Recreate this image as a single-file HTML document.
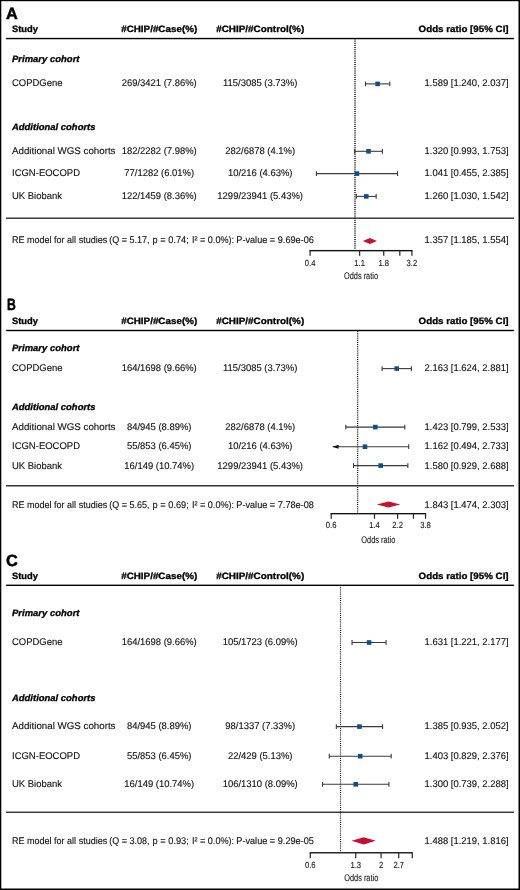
<!DOCTYPE html>
<html><head><meta charset="utf-8"><style>
html,body{margin:0;padding:0;background:#fff;width:520px;height:890px;overflow:hidden}
svg{display:block}
text{font-family:"Liberation Sans", sans-serif}
</style></head><body>
<svg width="520" height="890" viewBox="0 0 520 890" text-rendering="geometricPrecision" style="will-change:transform">
<rect width="520" height="890" fill="#fff"/>
<text x="6.00" y="19.00" style="font-size:16.3px;font-weight:bold" fill="#000" stroke="#000" stroke-width="0.5">A</text>
<text x="12.00" y="32.00" textLength="26.00" lengthAdjust="spacingAndGlyphs" style="font-size:9.2px;font-weight:bold" fill="#000" stroke="#000" stroke-width="0.3">Study</text>
<text x="159.20" y="32.00" text-anchor="middle" textLength="76.00" lengthAdjust="spacingAndGlyphs" style="font-size:9.2px;font-weight:bold" fill="#000" stroke="#000" stroke-width="0.3">#CHIP/#Case(%)</text>
<text x="260.20" y="32.00" text-anchor="middle" textLength="88.00" lengthAdjust="spacingAndGlyphs" style="font-size:9.2px;font-weight:bold" fill="#000" stroke="#000" stroke-width="0.3">#CHIP/#Control(%)</text>
<text x="508.60" y="32.00" text-anchor="end" textLength="90.00" lengthAdjust="spacingAndGlyphs" style="font-size:9.2px;font-weight:bold" fill="#000" stroke="#000" stroke-width="0.3">Odds ratio [95% CI]</text>
<rect x="6.00" y="37.85" width="508.00" height="1.40" fill="#000"/>
<text x="12.00" y="62.00" textLength="67.50" lengthAdjust="spacingAndGlyphs" style="font-size:9.2px;font-weight:bold;font-style:italic" fill="#000" stroke="#000" stroke-width="0.3">Primary cohort</text>
<text x="12.00" y="130.00" textLength="83.50" lengthAdjust="spacingAndGlyphs" style="font-size:9.2px;font-weight:bold;font-style:italic" fill="#000" stroke="#000" stroke-width="0.3">Additional cohorts</text>
<rect x="354.00" y="39" width="2.00" height="1" fill="#4a4a4a" fill-opacity="0.53"/>
<rect x="354.00" y="40" width="2.00" height="1" fill="#4a4a4a" fill-opacity="0.40"/>
<rect x="354.00" y="41" width="2.00" height="1" fill="#4a4a4a" fill-opacity="0.65"/>
<rect x="354.00" y="42" width="2.00" height="1" fill="#4a4a4a" fill-opacity="0.28"/>
<rect x="354.00" y="43" width="2.00" height="1" fill="#4a4a4a" fill-opacity="0.80"/>
<rect x="354.00" y="44" width="2.00" height="1" fill="#4a4a4a" fill-opacity="0.15"/>
<rect x="354.00" y="45" width="2.00" height="1" fill="#4a4a4a" fill-opacity="0.93"/>
<rect x="354.00" y="47" width="2.00" height="1" fill="#4a4a4a" fill-opacity="1.00"/>
<rect x="354.00" y="48" width="2.00" height="1" fill="#4a4a4a" fill-opacity="0.05"/>
<rect x="354.00" y="49" width="2.00" height="1" fill="#4a4a4a" fill-opacity="0.88"/>
<rect x="354.00" y="50" width="2.00" height="1" fill="#4a4a4a" fill-opacity="0.20"/>
<rect x="354.00" y="51" width="2.00" height="1" fill="#4a4a4a" fill-opacity="0.75"/>
<rect x="354.00" y="52" width="2.00" height="1" fill="#4a4a4a" fill-opacity="0.33"/>
<rect x="354.00" y="53" width="2.00" height="1" fill="#4a4a4a" fill-opacity="0.60"/>
<rect x="354.00" y="54" width="2.00" height="1" fill="#4a4a4a" fill-opacity="0.45"/>
<rect x="354.00" y="55" width="2.00" height="1" fill="#4a4a4a" fill-opacity="0.47"/>
<rect x="354.00" y="56" width="2.00" height="1" fill="#4a4a4a" fill-opacity="0.60"/>
<rect x="354.00" y="57" width="2.00" height="1" fill="#4a4a4a" fill-opacity="0.35"/>
<rect x="354.00" y="58" width="2.00" height="1" fill="#4a4a4a" fill-opacity="0.72"/>
<rect x="354.00" y="59" width="2.00" height="1" fill="#4a4a4a" fill-opacity="0.20"/>
<rect x="354.00" y="60" width="2.00" height="1" fill="#4a4a4a" fill-opacity="0.85"/>
<rect x="354.00" y="61" width="2.00" height="1" fill="#4a4a4a" fill-opacity="0.07"/>
<rect x="354.00" y="62" width="2.00" height="1" fill="#4a4a4a" fill-opacity="1.00"/>
<rect x="354.00" y="64" width="2.00" height="1" fill="#4a4a4a" fill-opacity="0.95"/>
<rect x="354.00" y="65" width="2.00" height="1" fill="#4a4a4a" fill-opacity="0.12"/>
<rect x="354.00" y="66" width="2.00" height="1" fill="#4a4a4a" fill-opacity="0.80"/>
<rect x="354.00" y="67" width="2.00" height="1" fill="#4a4a4a" fill-opacity="0.25"/>
<rect x="354.00" y="68" width="2.00" height="1" fill="#4a4a4a" fill-opacity="0.68"/>
<rect x="354.00" y="69" width="2.00" height="1" fill="#4a4a4a" fill-opacity="0.40"/>
<rect x="354.00" y="70" width="2.00" height="1" fill="#4a4a4a" fill-opacity="0.55"/>
<rect x="354.00" y="71" width="2.00" height="1" fill="#4a4a4a" fill-opacity="0.53"/>
<rect x="354.00" y="72" width="2.00" height="1" fill="#4a4a4a" fill-opacity="0.40"/>
<rect x="354.00" y="73" width="2.00" height="1" fill="#4a4a4a" fill-opacity="0.65"/>
<rect x="354.00" y="74" width="2.00" height="1" fill="#4a4a4a" fill-opacity="0.28"/>
<rect x="354.00" y="75" width="2.00" height="1" fill="#4a4a4a" fill-opacity="0.80"/>
<rect x="354.00" y="76" width="2.00" height="1" fill="#4a4a4a" fill-opacity="0.15"/>
<rect x="354.00" y="77" width="2.00" height="1" fill="#4a4a4a" fill-opacity="0.93"/>
<rect x="354.00" y="79" width="2.00" height="1" fill="#4a4a4a" fill-opacity="1.00"/>
<rect x="354.00" y="80" width="2.00" height="1" fill="#4a4a4a" fill-opacity="0.05"/>
<rect x="354.00" y="81" width="2.00" height="1" fill="#4a4a4a" fill-opacity="0.88"/>
<rect x="354.00" y="82" width="2.00" height="1" fill="#4a4a4a" fill-opacity="0.20"/>
<rect x="354.00" y="83" width="2.00" height="1" fill="#4a4a4a" fill-opacity="0.75"/>
<rect x="354.00" y="84" width="2.00" height="1" fill="#4a4a4a" fill-opacity="0.33"/>
<rect x="354.00" y="85" width="2.00" height="1" fill="#4a4a4a" fill-opacity="0.60"/>
<rect x="354.00" y="86" width="2.00" height="1" fill="#4a4a4a" fill-opacity="0.45"/>
<rect x="354.00" y="87" width="2.00" height="1" fill="#4a4a4a" fill-opacity="0.47"/>
<rect x="354.00" y="88" width="2.00" height="1" fill="#4a4a4a" fill-opacity="0.60"/>
<rect x="354.00" y="89" width="2.00" height="1" fill="#4a4a4a" fill-opacity="0.35"/>
<rect x="354.00" y="90" width="2.00" height="1" fill="#4a4a4a" fill-opacity="0.72"/>
<rect x="354.00" y="91" width="2.00" height="1" fill="#4a4a4a" fill-opacity="0.20"/>
<rect x="354.00" y="92" width="2.00" height="1" fill="#4a4a4a" fill-opacity="0.85"/>
<rect x="354.00" y="93" width="2.00" height="1" fill="#4a4a4a" fill-opacity="0.07"/>
<rect x="354.00" y="94" width="2.00" height="1" fill="#4a4a4a" fill-opacity="1.00"/>
<rect x="354.00" y="96" width="2.00" height="1" fill="#4a4a4a" fill-opacity="0.95"/>
<rect x="354.00" y="97" width="2.00" height="1" fill="#4a4a4a" fill-opacity="0.12"/>
<rect x="354.00" y="98" width="2.00" height="1" fill="#4a4a4a" fill-opacity="0.80"/>
<rect x="354.00" y="99" width="2.00" height="1" fill="#4a4a4a" fill-opacity="0.25"/>
<rect x="354.00" y="100" width="2.00" height="1" fill="#4a4a4a" fill-opacity="0.68"/>
<rect x="354.00" y="101" width="2.00" height="1" fill="#4a4a4a" fill-opacity="0.40"/>
<rect x="354.00" y="102" width="2.00" height="1" fill="#4a4a4a" fill-opacity="0.55"/>
<rect x="354.00" y="103" width="2.00" height="1" fill="#4a4a4a" fill-opacity="0.53"/>
<rect x="354.00" y="104" width="2.00" height="1" fill="#4a4a4a" fill-opacity="0.40"/>
<rect x="354.00" y="105" width="2.00" height="1" fill="#4a4a4a" fill-opacity="0.65"/>
<rect x="354.00" y="106" width="2.00" height="1" fill="#4a4a4a" fill-opacity="0.28"/>
<rect x="354.00" y="107" width="2.00" height="1" fill="#4a4a4a" fill-opacity="0.80"/>
<rect x="354.00" y="108" width="2.00" height="1" fill="#4a4a4a" fill-opacity="0.15"/>
<rect x="354.00" y="109" width="2.00" height="1" fill="#4a4a4a" fill-opacity="0.93"/>
<rect x="354.00" y="111" width="2.00" height="1" fill="#4a4a4a" fill-opacity="1.00"/>
<rect x="354.00" y="112" width="2.00" height="1" fill="#4a4a4a" fill-opacity="0.05"/>
<rect x="354.00" y="113" width="2.00" height="1" fill="#4a4a4a" fill-opacity="0.88"/>
<rect x="354.00" y="114" width="2.00" height="1" fill="#4a4a4a" fill-opacity="0.20"/>
<rect x="354.00" y="115" width="2.00" height="1" fill="#4a4a4a" fill-opacity="0.75"/>
<rect x="354.00" y="116" width="2.00" height="1" fill="#4a4a4a" fill-opacity="0.33"/>
<rect x="354.00" y="117" width="2.00" height="1" fill="#4a4a4a" fill-opacity="0.60"/>
<rect x="354.00" y="118" width="2.00" height="1" fill="#4a4a4a" fill-opacity="0.47"/>
<rect x="354.00" y="119" width="2.00" height="1" fill="#4a4a4a" fill-opacity="0.47"/>
<rect x="354.00" y="120" width="2.00" height="1" fill="#4a4a4a" fill-opacity="0.60"/>
<rect x="354.00" y="121" width="2.00" height="1" fill="#4a4a4a" fill-opacity="0.33"/>
<rect x="354.00" y="122" width="2.00" height="1" fill="#4a4a4a" fill-opacity="0.72"/>
<rect x="354.00" y="123" width="2.00" height="1" fill="#4a4a4a" fill-opacity="0.20"/>
<rect x="354.00" y="124" width="2.00" height="1" fill="#4a4a4a" fill-opacity="0.88"/>
<rect x="354.00" y="125" width="2.00" height="1" fill="#4a4a4a" fill-opacity="0.07"/>
<rect x="354.00" y="126" width="2.00" height="1" fill="#4a4a4a" fill-opacity="1.00"/>
<rect x="354.00" y="128" width="2.00" height="1" fill="#4a4a4a" fill-opacity="0.93"/>
<rect x="354.00" y="129" width="2.00" height="1" fill="#4a4a4a" fill-opacity="0.12"/>
<rect x="354.00" y="130" width="2.00" height="1" fill="#4a4a4a" fill-opacity="0.80"/>
<rect x="354.00" y="131" width="2.00" height="1" fill="#4a4a4a" fill-opacity="0.28"/>
<rect x="354.00" y="132" width="2.00" height="1" fill="#4a4a4a" fill-opacity="0.68"/>
<rect x="354.00" y="133" width="2.00" height="1" fill="#4a4a4a" fill-opacity="0.40"/>
<rect x="354.00" y="134" width="2.00" height="1" fill="#4a4a4a" fill-opacity="0.53"/>
<rect x="354.00" y="135" width="2.00" height="1" fill="#4a4a4a" fill-opacity="0.53"/>
<rect x="354.00" y="136" width="2.00" height="1" fill="#4a4a4a" fill-opacity="0.40"/>
<rect x="354.00" y="137" width="2.00" height="1" fill="#4a4a4a" fill-opacity="0.68"/>
<rect x="354.00" y="138" width="2.00" height="1" fill="#4a4a4a" fill-opacity="0.28"/>
<rect x="354.00" y="139" width="2.00" height="1" fill="#4a4a4a" fill-opacity="0.80"/>
<rect x="354.00" y="140" width="2.00" height="1" fill="#4a4a4a" fill-opacity="0.12"/>
<rect x="354.00" y="141" width="2.00" height="1" fill="#4a4a4a" fill-opacity="0.93"/>
<rect x="354.00" y="143" width="2.00" height="1" fill="#4a4a4a" fill-opacity="1.00"/>
<rect x="354.00" y="144" width="2.00" height="1" fill="#4a4a4a" fill-opacity="0.07"/>
<rect x="354.00" y="145" width="2.00" height="1" fill="#4a4a4a" fill-opacity="0.88"/>
<rect x="354.00" y="146" width="2.00" height="1" fill="#4a4a4a" fill-opacity="0.20"/>
<rect x="354.00" y="147" width="2.00" height="1" fill="#4a4a4a" fill-opacity="0.72"/>
<rect x="354.00" y="148" width="2.00" height="1" fill="#4a4a4a" fill-opacity="0.33"/>
<rect x="354.00" y="149" width="2.00" height="1" fill="#4a4a4a" fill-opacity="0.60"/>
<rect x="354.00" y="150" width="2.00" height="1" fill="#4a4a4a" fill-opacity="0.47"/>
<rect x="354.00" y="151" width="2.00" height="1" fill="#4a4a4a" fill-opacity="0.47"/>
<rect x="354.00" y="152" width="2.00" height="1" fill="#4a4a4a" fill-opacity="0.60"/>
<rect x="354.00" y="153" width="2.00" height="1" fill="#4a4a4a" fill-opacity="0.33"/>
<rect x="354.00" y="154" width="2.00" height="1" fill="#4a4a4a" fill-opacity="0.72"/>
<rect x="354.00" y="155" width="2.00" height="1" fill="#4a4a4a" fill-opacity="0.20"/>
<rect x="354.00" y="156" width="2.00" height="1" fill="#4a4a4a" fill-opacity="0.88"/>
<rect x="354.00" y="157" width="2.00" height="1" fill="#4a4a4a" fill-opacity="0.07"/>
<rect x="354.00" y="158" width="2.00" height="1" fill="#4a4a4a" fill-opacity="1.00"/>
<rect x="354.00" y="160" width="2.00" height="1" fill="#4a4a4a" fill-opacity="0.93"/>
<rect x="354.00" y="161" width="2.00" height="1" fill="#4a4a4a" fill-opacity="0.12"/>
<rect x="354.00" y="162" width="2.00" height="1" fill="#4a4a4a" fill-opacity="0.80"/>
<rect x="354.00" y="163" width="2.00" height="1" fill="#4a4a4a" fill-opacity="0.28"/>
<rect x="354.00" y="164" width="2.00" height="1" fill="#4a4a4a" fill-opacity="0.68"/>
<rect x="354.00" y="165" width="2.00" height="1" fill="#4a4a4a" fill-opacity="0.40"/>
<rect x="354.00" y="166" width="2.00" height="1" fill="#4a4a4a" fill-opacity="0.53"/>
<rect x="354.00" y="167" width="2.00" height="1" fill="#4a4a4a" fill-opacity="0.53"/>
<rect x="354.00" y="168" width="2.00" height="1" fill="#4a4a4a" fill-opacity="0.40"/>
<rect x="354.00" y="169" width="2.00" height="1" fill="#4a4a4a" fill-opacity="0.68"/>
<rect x="354.00" y="170" width="2.00" height="1" fill="#4a4a4a" fill-opacity="0.28"/>
<rect x="354.00" y="171" width="2.00" height="1" fill="#4a4a4a" fill-opacity="0.80"/>
<rect x="354.00" y="172" width="2.00" height="1" fill="#4a4a4a" fill-opacity="0.12"/>
<rect x="354.00" y="173" width="2.00" height="1" fill="#4a4a4a" fill-opacity="0.93"/>
<rect x="354.00" y="175" width="2.00" height="1" fill="#4a4a4a" fill-opacity="1.00"/>
<rect x="354.00" y="176" width="2.00" height="1" fill="#4a4a4a" fill-opacity="0.07"/>
<rect x="354.00" y="177" width="2.00" height="1" fill="#4a4a4a" fill-opacity="0.88"/>
<rect x="354.00" y="178" width="2.00" height="1" fill="#4a4a4a" fill-opacity="0.20"/>
<rect x="354.00" y="179" width="2.00" height="1" fill="#4a4a4a" fill-opacity="0.72"/>
<rect x="354.00" y="180" width="2.00" height="1" fill="#4a4a4a" fill-opacity="0.33"/>
<rect x="354.00" y="181" width="2.00" height="1" fill="#4a4a4a" fill-opacity="0.60"/>
<rect x="354.00" y="182" width="2.00" height="1" fill="#4a4a4a" fill-opacity="0.47"/>
<rect x="354.00" y="183" width="2.00" height="1" fill="#4a4a4a" fill-opacity="0.47"/>
<rect x="354.00" y="184" width="2.00" height="1" fill="#4a4a4a" fill-opacity="0.60"/>
<rect x="354.00" y="185" width="2.00" height="1" fill="#4a4a4a" fill-opacity="0.33"/>
<rect x="354.00" y="186" width="2.00" height="1" fill="#4a4a4a" fill-opacity="0.72"/>
<rect x="354.00" y="187" width="2.00" height="1" fill="#4a4a4a" fill-opacity="0.20"/>
<rect x="354.00" y="188" width="2.00" height="1" fill="#4a4a4a" fill-opacity="0.88"/>
<rect x="354.00" y="189" width="2.00" height="1" fill="#4a4a4a" fill-opacity="0.07"/>
<rect x="354.00" y="190" width="2.00" height="1" fill="#4a4a4a" fill-opacity="1.00"/>
<rect x="354.00" y="192" width="2.00" height="1" fill="#4a4a4a" fill-opacity="0.93"/>
<rect x="354.00" y="193" width="2.00" height="1" fill="#4a4a4a" fill-opacity="0.12"/>
<rect x="354.00" y="194" width="2.00" height="1" fill="#4a4a4a" fill-opacity="0.80"/>
<rect x="354.00" y="195" width="2.00" height="1" fill="#4a4a4a" fill-opacity="0.28"/>
<rect x="354.00" y="196" width="2.00" height="1" fill="#4a4a4a" fill-opacity="0.68"/>
<rect x="354.00" y="197" width="2.00" height="1" fill="#4a4a4a" fill-opacity="0.40"/>
<rect x="354.00" y="198" width="2.00" height="1" fill="#4a4a4a" fill-opacity="0.53"/>
<rect x="354.00" y="199" width="2.00" height="1" fill="#4a4a4a" fill-opacity="0.53"/>
<rect x="354.00" y="200" width="2.00" height="1" fill="#4a4a4a" fill-opacity="0.40"/>
<rect x="354.00" y="201" width="2.00" height="1" fill="#4a4a4a" fill-opacity="0.68"/>
<rect x="354.00" y="202" width="2.00" height="1" fill="#4a4a4a" fill-opacity="0.28"/>
<rect x="354.00" y="203" width="2.00" height="1" fill="#4a4a4a" fill-opacity="0.80"/>
<rect x="354.00" y="204" width="2.00" height="1" fill="#4a4a4a" fill-opacity="0.12"/>
<rect x="354.00" y="205" width="2.00" height="1" fill="#4a4a4a" fill-opacity="0.93"/>
<rect x="354.00" y="207" width="2.00" height="1" fill="#4a4a4a" fill-opacity="1.00"/>
<rect x="354.00" y="208" width="2.00" height="1" fill="#4a4a4a" fill-opacity="0.07"/>
<rect x="354.00" y="209" width="2.00" height="1" fill="#4a4a4a" fill-opacity="0.88"/>
<rect x="354.00" y="210" width="2.00" height="1" fill="#4a4a4a" fill-opacity="0.20"/>
<rect x="354.00" y="211" width="2.00" height="1" fill="#4a4a4a" fill-opacity="0.72"/>
<rect x="354.00" y="212" width="2.00" height="1" fill="#4a4a4a" fill-opacity="0.33"/>
<rect x="354.00" y="213" width="2.00" height="1" fill="#4a4a4a" fill-opacity="0.60"/>
<rect x="354.00" y="214" width="2.00" height="1" fill="#4a4a4a" fill-opacity="0.47"/>
<rect x="354.00" y="215" width="2.00" height="1" fill="#4a4a4a" fill-opacity="0.47"/>
<rect x="354.00" y="216" width="2.00" height="1" fill="#4a4a4a" fill-opacity="0.60"/>
<rect x="354.00" y="217" width="2.00" height="1" fill="#4a4a4a" fill-opacity="0.33"/>
<rect x="354.00" y="218" width="2.00" height="1" fill="#4a4a4a" fill-opacity="0.72"/>
<rect x="354.00" y="219" width="2.00" height="1" fill="#4a4a4a" fill-opacity="0.20"/>
<rect x="354.00" y="220" width="2.00" height="1" fill="#4a4a4a" fill-opacity="0.88"/>
<rect x="354.00" y="221" width="2.00" height="1" fill="#4a4a4a" fill-opacity="0.07"/>
<rect x="354.00" y="222" width="2.00" height="1" fill="#4a4a4a" fill-opacity="1.00"/>
<rect x="354.00" y="224" width="2.00" height="1" fill="#4a4a4a" fill-opacity="0.93"/>
<rect x="354.00" y="225" width="2.00" height="1" fill="#4a4a4a" fill-opacity="0.15"/>
<rect x="354.00" y="226" width="2.00" height="1" fill="#4a4a4a" fill-opacity="0.80"/>
<rect x="354.00" y="227" width="2.00" height="1" fill="#4a4a4a" fill-opacity="0.28"/>
<rect x="354.00" y="228" width="2.00" height="1" fill="#4a4a4a" fill-opacity="0.65"/>
<rect x="354.00" y="229" width="2.00" height="1" fill="#4a4a4a" fill-opacity="0.40"/>
<rect x="354.00" y="230" width="2.00" height="1" fill="#4a4a4a" fill-opacity="0.53"/>
<rect x="354.00" y="231" width="2.00" height="1" fill="#4a4a4a" fill-opacity="0.55"/>
<rect x="354.00" y="232" width="2.00" height="1" fill="#4a4a4a" fill-opacity="0.40"/>
<rect x="354.00" y="233" width="2.00" height="1" fill="#4a4a4a" fill-opacity="0.68"/>
<rect x="354.00" y="234" width="2.00" height="1" fill="#4a4a4a" fill-opacity="0.25"/>
<rect x="354.00" y="235" width="2.00" height="1" fill="#4a4a4a" fill-opacity="0.80"/>
<rect x="354.00" y="236" width="2.00" height="1" fill="#4a4a4a" fill-opacity="0.12"/>
<rect x="354.00" y="237" width="2.00" height="1" fill="#4a4a4a" fill-opacity="0.95"/>
<rect x="354.00" y="239" width="2.00" height="1" fill="#4a4a4a" fill-opacity="1.00"/>
<rect x="354.00" y="240" width="2.00" height="1" fill="#4a4a4a" fill-opacity="0.07"/>
<rect x="354.00" y="241" width="2.00" height="1" fill="#4a4a4a" fill-opacity="0.85"/>
<rect x="354.00" y="242" width="2.00" height="1" fill="#4a4a4a" fill-opacity="0.20"/>
<rect x="354.00" y="243" width="2.00" height="1" fill="#4a4a4a" fill-opacity="0.72"/>
<rect x="354.00" y="244" width="2.00" height="1" fill="#4a4a4a" fill-opacity="0.35"/>
<rect x="354.00" y="245" width="2.00" height="1" fill="#4a4a4a" fill-opacity="0.60"/>
<rect x="354.00" y="246" width="2.00" height="1" fill="#4a4a4a" fill-opacity="0.47"/>
<rect x="354.00" y="247" width="2.00" height="1" fill="#4a4a4a" fill-opacity="0.45"/>
<rect x="354.00" y="248" width="2.00" height="1" fill="#4a4a4a" fill-opacity="0.60"/>
<text x="12.00" y="86.00" textLength="50.50" lengthAdjust="spacingAndGlyphs" style="font-size:9.7px" fill="#111" stroke="#111" stroke-width="0.12">COPDGene</text>
<text x="159.20" y="86.00" text-anchor="middle" textLength="75.15" lengthAdjust="spacingAndGlyphs" style="font-size:9.7px" fill="#111" stroke="#111" stroke-width="0.12">269/3421 (7.86%)</text>
<text x="260.20" y="86.00" text-anchor="middle" textLength="74.45" lengthAdjust="spacingAndGlyphs" style="font-size:9.7px" fill="#111" stroke="#111" stroke-width="0.12">115/3085 (3.73%)</text>
<text x="508.60" y="86.00" text-anchor="end" textLength="84.09" lengthAdjust="spacingAndGlyphs" style="font-size:9.7px" fill="#111" stroke="#111" stroke-width="0.12">1.589 [1.240, 2.037]</text>
<line x1="365.49" y1="83.90" x2="389.79" y2="83.90" stroke="#3a3a3a" stroke-width="1.1"/>
<line x1="365.49" y1="81.50" x2="365.49" y2="86.30" stroke="#3a3a3a" stroke-width="1.1"/>
<line x1="389.79" y1="81.50" x2="389.79" y2="86.30" stroke="#3a3a3a" stroke-width="1.1"/>
<rect x="375.33" y="81.60" width="4.60" height="4.60" fill="#0d4f8b"/>
<text x="12.00" y="154.00" textLength="103.50" lengthAdjust="spacingAndGlyphs" style="font-size:9.7px" fill="#111" stroke="#111" stroke-width="0.12">Additional WGS cohorts</text>
<text x="159.20" y="154.00" text-anchor="middle" textLength="75.15" lengthAdjust="spacingAndGlyphs" style="font-size:9.7px" fill="#111" stroke="#111" stroke-width="0.12">182/2282 (7.98%)</text>
<text x="260.20" y="154.00" text-anchor="middle" textLength="69.89" lengthAdjust="spacingAndGlyphs" style="font-size:9.7px" fill="#111" stroke="#111" stroke-width="0.12">282/6878 (4.1%)</text>
<text x="508.60" y="154.00" text-anchor="end" textLength="84.09" lengthAdjust="spacingAndGlyphs" style="font-size:9.7px" fill="#111" stroke="#111" stroke-width="0.12">1.320 [0.993, 1.753]</text>
<line x1="354.62" y1="151.30" x2="382.44" y2="151.30" stroke="#3a3a3a" stroke-width="1.1"/>
<line x1="354.62" y1="148.90" x2="354.62" y2="153.70" stroke="#3a3a3a" stroke-width="1.1"/>
<line x1="382.44" y1="148.90" x2="382.44" y2="153.70" stroke="#3a3a3a" stroke-width="1.1"/>
<rect x="366.25" y="149.00" width="4.60" height="4.60" fill="#0d4f8b"/>
<text x="12.00" y="176.00" textLength="68.00" lengthAdjust="spacingAndGlyphs" style="font-size:9.7px" fill="#111" stroke="#111" stroke-width="0.12">ICGN-EOCOPD</text>
<text x="159.20" y="176.00" text-anchor="middle" textLength="69.89" lengthAdjust="spacingAndGlyphs" style="font-size:9.7px" fill="#111" stroke="#111" stroke-width="0.12">77/1282 (6.01%)</text>
<text x="260.20" y="176.00" text-anchor="middle" textLength="64.63" lengthAdjust="spacingAndGlyphs" style="font-size:9.7px" fill="#111" stroke="#111" stroke-width="0.12">10/216 (4.63%)</text>
<text x="508.60" y="176.00" text-anchor="end" textLength="84.09" lengthAdjust="spacingAndGlyphs" style="font-size:9.7px" fill="#111" stroke="#111" stroke-width="0.12">1.041 [0.455, 2.385]</text>
<line x1="316.41" y1="173.60" x2="397.52" y2="173.60" stroke="#3a3a3a" stroke-width="1.1"/>
<line x1="316.41" y1="171.20" x2="316.41" y2="176.00" stroke="#3a3a3a" stroke-width="1.1"/>
<line x1="397.52" y1="171.20" x2="397.52" y2="176.00" stroke="#3a3a3a" stroke-width="1.1"/>
<rect x="354.63" y="171.30" width="4.60" height="4.60" fill="#0d4f8b"/>
<text x="12.00" y="199.00" textLength="50.00" lengthAdjust="spacingAndGlyphs" style="font-size:9.7px" fill="#111" stroke="#111" stroke-width="0.12">UK Biobank</text>
<text x="159.20" y="199.00" text-anchor="middle" textLength="75.15" lengthAdjust="spacingAndGlyphs" style="font-size:9.7px" fill="#111" stroke="#111" stroke-width="0.12">122/1459 (8.36%)</text>
<text x="260.20" y="199.00" text-anchor="middle" textLength="85.66" lengthAdjust="spacingAndGlyphs" style="font-size:9.7px" fill="#111" stroke="#111" stroke-width="0.12">1299/23941 (5.43%)</text>
<text x="508.60" y="199.00" text-anchor="end" textLength="84.09" lengthAdjust="spacingAndGlyphs" style="font-size:9.7px" fill="#111" stroke="#111" stroke-width="0.12">1.260 [1.030, 1.542]</text>
<line x1="356.41" y1="196.40" x2="376.16" y2="196.40" stroke="#3a3a3a" stroke-width="1.1"/>
<line x1="356.41" y1="194.00" x2="356.41" y2="198.80" stroke="#3a3a3a" stroke-width="1.1"/>
<line x1="376.16" y1="194.00" x2="376.16" y2="198.80" stroke="#3a3a3a" stroke-width="1.1"/>
<rect x="363.98" y="194.10" width="4.60" height="4.60" fill="#0d4f8b"/>
<rect x="6.00" y="217.55" width="508.00" height="1.25" fill="#151515"/>
<text x="12.00" y="243.00" textLength="95.20" lengthAdjust="spacingAndGlyphs" style="font-size:9.7px" fill="#111" stroke="#111" stroke-width="0.12">RE model for all studies</text>
<text x="109.30" y="243.00" textLength="40.30" lengthAdjust="spacingAndGlyphs" style="font-size:9.7px" fill="#111" stroke="#111" stroke-width="0.12">(Q = 5.17,</text>
<text x="152.60" y="243.00" textLength="36.20" lengthAdjust="spacingAndGlyphs" style="font-size:9.7px" fill="#111" stroke="#111" stroke-width="0.12">p = 0.74;</text>
<text x="191.90" y="243.00" textLength="42.20" lengthAdjust="spacingAndGlyphs" style="font-size:9.7px" fill="#111" stroke="#111" stroke-width="0.12">I² = 0.0%):</text>
<text x="236.30" y="243.00" textLength="77.60" lengthAdjust="spacingAndGlyphs" style="font-size:9.7px" fill="#111" stroke="#111" stroke-width="0.12">P-value = 9.69e-06</text>
<text x="508.60" y="243.00" text-anchor="end" textLength="84.09" lengthAdjust="spacingAndGlyphs" style="font-size:9.7px" fill="#111" stroke="#111" stroke-width="0.12">1.357 [1.185, 1.554]</text>
<path d="M362.87,241.00 L369.91,238.10 L376.94,241.00 L369.91,243.90 Z" fill="#c8102e"/>
<rect x="309.50" y="249.95" width="103.01" height="1.40" fill="#111"/>
<line x1="310.10" y1="250.50" x2="310.10" y2="255.70" stroke="#222" stroke-width="1.2"/>
<text x="310.10" y="265.50" text-anchor="middle" textLength="10.64" lengthAdjust="spacingAndGlyphs" style="font-size:8.8px" fill="#222" stroke="#111" stroke-width="0.12">0.4</text>
<line x1="359.63" y1="250.50" x2="359.63" y2="255.70" stroke="#222" stroke-width="1.2"/>
<text x="359.63" y="265.50" text-anchor="middle" textLength="10.64" lengthAdjust="spacingAndGlyphs" style="font-size:8.8px" fill="#222" stroke="#111" stroke-width="0.12">1.1</text>
<line x1="383.74" y1="250.50" x2="383.74" y2="255.70" stroke="#222" stroke-width="1.2"/>
<text x="383.74" y="265.50" text-anchor="middle" textLength="10.64" lengthAdjust="spacingAndGlyphs" style="font-size:8.8px" fill="#222" stroke="#111" stroke-width="0.12">1.8</text>
<line x1="399.82" y1="250.50" x2="399.82" y2="255.70" stroke="#222" stroke-width="1.2"/>
<line x1="411.91" y1="250.50" x2="411.91" y2="255.70" stroke="#222" stroke-width="1.2"/>
<text x="411.91" y="265.50" text-anchor="middle" textLength="10.64" lengthAdjust="spacingAndGlyphs" style="font-size:8.8px" fill="#222" stroke="#111" stroke-width="0.12">3.2</text>
<text x="361.00" y="279.30" text-anchor="middle" textLength="34.00" lengthAdjust="spacingAndGlyphs" style="font-size:9.6px" fill="#222" stroke="#111" stroke-width="0.12">Odds ratio</text>
<text x="7.00" y="310.00" textLength="8.80" lengthAdjust="spacingAndGlyphs" style="font-size:16.3px;font-weight:bold" fill="#000" stroke="#000" stroke-width="0.5">B</text>
<text x="12.00" y="324.00" textLength="26.00" lengthAdjust="spacingAndGlyphs" style="font-size:9.2px;font-weight:bold" fill="#000" stroke="#000" stroke-width="0.3">Study</text>
<text x="159.20" y="324.00" text-anchor="middle" textLength="76.00" lengthAdjust="spacingAndGlyphs" style="font-size:9.2px;font-weight:bold" fill="#000" stroke="#000" stroke-width="0.3">#CHIP/#Case(%)</text>
<text x="260.20" y="324.00" text-anchor="middle" textLength="88.00" lengthAdjust="spacingAndGlyphs" style="font-size:9.2px;font-weight:bold" fill="#000" stroke="#000" stroke-width="0.3">#CHIP/#Control(%)</text>
<text x="508.60" y="324.00" text-anchor="end" textLength="90.00" lengthAdjust="spacingAndGlyphs" style="font-size:9.2px;font-weight:bold" fill="#000" stroke="#000" stroke-width="0.3">Odds ratio [95% CI]</text>
<rect x="6.00" y="329.80" width="508.00" height="1.40" fill="#000"/>
<text x="12.00" y="351.00" textLength="67.50" lengthAdjust="spacingAndGlyphs" style="font-size:9.2px;font-weight:bold;font-style:italic" fill="#000" stroke="#000" stroke-width="0.3">Primary cohort</text>
<text x="12.00" y="410.00" textLength="83.50" lengthAdjust="spacingAndGlyphs" style="font-size:9.2px;font-weight:bold;font-style:italic" fill="#000" stroke="#000" stroke-width="0.3">Additional cohorts</text>
<rect x="357.00" y="331" width="1.30" height="1" fill="#1a1a1a" fill-opacity="0.75"/>
<rect x="357.00" y="332" width="1.30" height="1" fill="#1a1a1a" fill-opacity="0.33"/>
<rect x="357.00" y="333" width="1.30" height="1" fill="#1a1a1a" fill-opacity="0.62"/>
<rect x="357.00" y="334" width="1.30" height="1" fill="#1a1a1a" fill-opacity="0.45"/>
<rect x="357.00" y="335" width="1.30" height="1" fill="#1a1a1a" fill-opacity="0.47"/>
<rect x="357.00" y="336" width="1.30" height="1" fill="#1a1a1a" fill-opacity="0.57"/>
<rect x="357.00" y="337" width="1.30" height="1" fill="#1a1a1a" fill-opacity="0.35"/>
<rect x="357.00" y="338" width="1.30" height="1" fill="#1a1a1a" fill-opacity="0.72"/>
<rect x="357.00" y="339" width="1.30" height="1" fill="#1a1a1a" fill-opacity="0.23"/>
<rect x="357.00" y="340" width="1.30" height="1" fill="#1a1a1a" fill-opacity="0.85"/>
<rect x="357.00" y="341" width="1.30" height="1" fill="#1a1a1a" fill-opacity="0.07"/>
<rect x="357.00" y="342" width="1.30" height="1" fill="#1a1a1a" fill-opacity="0.97"/>
<rect x="357.00" y="344" width="1.30" height="1" fill="#1a1a1a" fill-opacity="0.95"/>
<rect x="357.00" y="345" width="1.30" height="1" fill="#1a1a1a" fill-opacity="0.12"/>
<rect x="357.00" y="346" width="1.30" height="1" fill="#1a1a1a" fill-opacity="0.82"/>
<rect x="357.00" y="347" width="1.30" height="1" fill="#1a1a1a" fill-opacity="0.25"/>
<rect x="357.00" y="348" width="1.30" height="1" fill="#1a1a1a" fill-opacity="0.68"/>
<rect x="357.00" y="349" width="1.30" height="1" fill="#1a1a1a" fill-opacity="0.38"/>
<rect x="357.00" y="350" width="1.30" height="1" fill="#1a1a1a" fill-opacity="0.55"/>
<rect x="357.00" y="351" width="1.30" height="1" fill="#1a1a1a" fill-opacity="0.53"/>
<rect x="357.00" y="352" width="1.30" height="1" fill="#1a1a1a" fill-opacity="0.40"/>
<rect x="357.00" y="353" width="1.30" height="1" fill="#1a1a1a" fill-opacity="0.65"/>
<rect x="357.00" y="354" width="1.30" height="1" fill="#1a1a1a" fill-opacity="0.28"/>
<rect x="357.00" y="355" width="1.30" height="1" fill="#1a1a1a" fill-opacity="0.80"/>
<rect x="357.00" y="356" width="1.30" height="1" fill="#1a1a1a" fill-opacity="0.15"/>
<rect x="357.00" y="357" width="1.30" height="1" fill="#1a1a1a" fill-opacity="0.93"/>
<rect x="357.00" y="359" width="1.30" height="1" fill="#1a1a1a" fill-opacity="1.00"/>
<rect x="357.00" y="360" width="1.30" height="1" fill="#1a1a1a" fill-opacity="0.05"/>
<rect x="357.00" y="361" width="1.30" height="1" fill="#1a1a1a" fill-opacity="0.88"/>
<rect x="357.00" y="362" width="1.30" height="1" fill="#1a1a1a" fill-opacity="0.20"/>
<rect x="357.00" y="363" width="1.30" height="1" fill="#1a1a1a" fill-opacity="0.75"/>
<rect x="357.00" y="364" width="1.30" height="1" fill="#1a1a1a" fill-opacity="0.33"/>
<rect x="357.00" y="365" width="1.30" height="1" fill="#1a1a1a" fill-opacity="0.60"/>
<rect x="357.00" y="366" width="1.30" height="1" fill="#1a1a1a" fill-opacity="0.45"/>
<rect x="357.00" y="367" width="1.30" height="1" fill="#1a1a1a" fill-opacity="0.47"/>
<rect x="357.00" y="368" width="1.30" height="1" fill="#1a1a1a" fill-opacity="0.60"/>
<rect x="357.00" y="369" width="1.30" height="1" fill="#1a1a1a" fill-opacity="0.35"/>
<rect x="357.00" y="370" width="1.30" height="1" fill="#1a1a1a" fill-opacity="0.72"/>
<rect x="357.00" y="371" width="1.30" height="1" fill="#1a1a1a" fill-opacity="0.20"/>
<rect x="357.00" y="372" width="1.30" height="1" fill="#1a1a1a" fill-opacity="0.85"/>
<rect x="357.00" y="373" width="1.30" height="1" fill="#1a1a1a" fill-opacity="0.07"/>
<rect x="357.00" y="374" width="1.30" height="1" fill="#1a1a1a" fill-opacity="1.00"/>
<rect x="357.00" y="376" width="1.30" height="1" fill="#1a1a1a" fill-opacity="0.95"/>
<rect x="357.00" y="377" width="1.30" height="1" fill="#1a1a1a" fill-opacity="0.12"/>
<rect x="357.00" y="378" width="1.30" height="1" fill="#1a1a1a" fill-opacity="0.80"/>
<rect x="357.00" y="379" width="1.30" height="1" fill="#1a1a1a" fill-opacity="0.25"/>
<rect x="357.00" y="380" width="1.30" height="1" fill="#1a1a1a" fill-opacity="0.68"/>
<rect x="357.00" y="381" width="1.30" height="1" fill="#1a1a1a" fill-opacity="0.40"/>
<rect x="357.00" y="382" width="1.30" height="1" fill="#1a1a1a" fill-opacity="0.55"/>
<rect x="357.00" y="383" width="1.30" height="1" fill="#1a1a1a" fill-opacity="0.53"/>
<rect x="357.00" y="384" width="1.30" height="1" fill="#1a1a1a" fill-opacity="0.40"/>
<rect x="357.00" y="385" width="1.30" height="1" fill="#1a1a1a" fill-opacity="0.65"/>
<rect x="357.00" y="386" width="1.30" height="1" fill="#1a1a1a" fill-opacity="0.28"/>
<rect x="357.00" y="387" width="1.30" height="1" fill="#1a1a1a" fill-opacity="0.80"/>
<rect x="357.00" y="388" width="1.30" height="1" fill="#1a1a1a" fill-opacity="0.15"/>
<rect x="357.00" y="389" width="1.30" height="1" fill="#1a1a1a" fill-opacity="0.93"/>
<rect x="357.00" y="391" width="1.30" height="1" fill="#1a1a1a" fill-opacity="1.00"/>
<rect x="357.00" y="392" width="1.30" height="1" fill="#1a1a1a" fill-opacity="0.05"/>
<rect x="357.00" y="393" width="1.30" height="1" fill="#1a1a1a" fill-opacity="0.88"/>
<rect x="357.00" y="394" width="1.30" height="1" fill="#1a1a1a" fill-opacity="0.20"/>
<rect x="357.00" y="395" width="1.30" height="1" fill="#1a1a1a" fill-opacity="0.75"/>
<rect x="357.00" y="396" width="1.30" height="1" fill="#1a1a1a" fill-opacity="0.33"/>
<rect x="357.00" y="397" width="1.30" height="1" fill="#1a1a1a" fill-opacity="0.60"/>
<rect x="357.00" y="398" width="1.30" height="1" fill="#1a1a1a" fill-opacity="0.45"/>
<rect x="357.00" y="399" width="1.30" height="1" fill="#1a1a1a" fill-opacity="0.47"/>
<rect x="357.00" y="400" width="1.30" height="1" fill="#1a1a1a" fill-opacity="0.60"/>
<rect x="357.00" y="401" width="1.30" height="1" fill="#1a1a1a" fill-opacity="0.35"/>
<rect x="357.00" y="402" width="1.30" height="1" fill="#1a1a1a" fill-opacity="0.72"/>
<rect x="357.00" y="403" width="1.30" height="1" fill="#1a1a1a" fill-opacity="0.20"/>
<rect x="357.00" y="404" width="1.30" height="1" fill="#1a1a1a" fill-opacity="0.85"/>
<rect x="357.00" y="405" width="1.30" height="1" fill="#1a1a1a" fill-opacity="0.07"/>
<rect x="357.00" y="406" width="1.30" height="1" fill="#1a1a1a" fill-opacity="1.00"/>
<rect x="357.00" y="408" width="1.30" height="1" fill="#1a1a1a" fill-opacity="0.95"/>
<rect x="357.00" y="409" width="1.30" height="1" fill="#1a1a1a" fill-opacity="0.12"/>
<rect x="357.00" y="410" width="1.30" height="1" fill="#1a1a1a" fill-opacity="0.80"/>
<rect x="357.00" y="411" width="1.30" height="1" fill="#1a1a1a" fill-opacity="0.25"/>
<rect x="357.00" y="412" width="1.30" height="1" fill="#1a1a1a" fill-opacity="0.68"/>
<rect x="357.00" y="413" width="1.30" height="1" fill="#1a1a1a" fill-opacity="0.40"/>
<rect x="357.00" y="414" width="1.30" height="1" fill="#1a1a1a" fill-opacity="0.55"/>
<rect x="357.00" y="415" width="1.30" height="1" fill="#1a1a1a" fill-opacity="0.53"/>
<rect x="357.00" y="416" width="1.30" height="1" fill="#1a1a1a" fill-opacity="0.40"/>
<rect x="357.00" y="417" width="1.30" height="1" fill="#1a1a1a" fill-opacity="0.65"/>
<rect x="357.00" y="418" width="1.30" height="1" fill="#1a1a1a" fill-opacity="0.28"/>
<rect x="357.00" y="419" width="1.30" height="1" fill="#1a1a1a" fill-opacity="0.80"/>
<rect x="357.00" y="420" width="1.30" height="1" fill="#1a1a1a" fill-opacity="0.15"/>
<rect x="357.00" y="421" width="1.30" height="1" fill="#1a1a1a" fill-opacity="0.93"/>
<rect x="357.00" y="423" width="1.30" height="1" fill="#1a1a1a" fill-opacity="1.00"/>
<rect x="357.00" y="424" width="1.30" height="1" fill="#1a1a1a" fill-opacity="0.05"/>
<rect x="357.00" y="425" width="1.30" height="1" fill="#1a1a1a" fill-opacity="0.88"/>
<rect x="357.00" y="426" width="1.30" height="1" fill="#1a1a1a" fill-opacity="0.20"/>
<rect x="357.00" y="427" width="1.30" height="1" fill="#1a1a1a" fill-opacity="0.75"/>
<rect x="357.00" y="428" width="1.30" height="1" fill="#1a1a1a" fill-opacity="0.33"/>
<rect x="357.00" y="429" width="1.30" height="1" fill="#1a1a1a" fill-opacity="0.60"/>
<rect x="357.00" y="430" width="1.30" height="1" fill="#1a1a1a" fill-opacity="0.45"/>
<rect x="357.00" y="431" width="1.30" height="1" fill="#1a1a1a" fill-opacity="0.47"/>
<rect x="357.00" y="432" width="1.30" height="1" fill="#1a1a1a" fill-opacity="0.60"/>
<rect x="357.00" y="433" width="1.30" height="1" fill="#1a1a1a" fill-opacity="0.35"/>
<rect x="357.00" y="434" width="1.30" height="1" fill="#1a1a1a" fill-opacity="0.72"/>
<rect x="357.00" y="435" width="1.30" height="1" fill="#1a1a1a" fill-opacity="0.20"/>
<rect x="357.00" y="436" width="1.30" height="1" fill="#1a1a1a" fill-opacity="0.85"/>
<rect x="357.00" y="437" width="1.30" height="1" fill="#1a1a1a" fill-opacity="0.07"/>
<rect x="357.00" y="438" width="1.30" height="1" fill="#1a1a1a" fill-opacity="1.00"/>
<rect x="357.00" y="440" width="1.30" height="1" fill="#1a1a1a" fill-opacity="0.95"/>
<rect x="357.00" y="441" width="1.30" height="1" fill="#1a1a1a" fill-opacity="0.12"/>
<rect x="357.00" y="442" width="1.30" height="1" fill="#1a1a1a" fill-opacity="0.80"/>
<rect x="357.00" y="443" width="1.30" height="1" fill="#1a1a1a" fill-opacity="0.25"/>
<rect x="357.00" y="444" width="1.30" height="1" fill="#1a1a1a" fill-opacity="0.68"/>
<rect x="357.00" y="445" width="1.30" height="1" fill="#1a1a1a" fill-opacity="0.40"/>
<rect x="357.00" y="446" width="1.30" height="1" fill="#1a1a1a" fill-opacity="0.55"/>
<rect x="357.00" y="447" width="1.30" height="1" fill="#1a1a1a" fill-opacity="0.53"/>
<rect x="357.00" y="448" width="1.30" height="1" fill="#1a1a1a" fill-opacity="0.40"/>
<rect x="357.00" y="449" width="1.30" height="1" fill="#1a1a1a" fill-opacity="0.65"/>
<rect x="357.00" y="450" width="1.30" height="1" fill="#1a1a1a" fill-opacity="0.28"/>
<rect x="357.00" y="451" width="1.30" height="1" fill="#1a1a1a" fill-opacity="0.80"/>
<rect x="357.00" y="452" width="1.30" height="1" fill="#1a1a1a" fill-opacity="0.15"/>
<rect x="357.00" y="453" width="1.30" height="1" fill="#1a1a1a" fill-opacity="0.93"/>
<rect x="357.00" y="455" width="1.30" height="1" fill="#1a1a1a" fill-opacity="1.00"/>
<rect x="357.00" y="456" width="1.30" height="1" fill="#1a1a1a" fill-opacity="0.05"/>
<rect x="357.00" y="457" width="1.30" height="1" fill="#1a1a1a" fill-opacity="0.88"/>
<rect x="357.00" y="458" width="1.30" height="1" fill="#1a1a1a" fill-opacity="0.20"/>
<rect x="357.00" y="459" width="1.30" height="1" fill="#1a1a1a" fill-opacity="0.72"/>
<rect x="357.00" y="460" width="1.30" height="1" fill="#1a1a1a" fill-opacity="0.33"/>
<rect x="357.00" y="461" width="1.30" height="1" fill="#1a1a1a" fill-opacity="0.60"/>
<rect x="357.00" y="462" width="1.30" height="1" fill="#1a1a1a" fill-opacity="0.47"/>
<rect x="357.00" y="463" width="1.30" height="1" fill="#1a1a1a" fill-opacity="0.47"/>
<rect x="357.00" y="464" width="1.30" height="1" fill="#1a1a1a" fill-opacity="0.60"/>
<rect x="357.00" y="465" width="1.30" height="1" fill="#1a1a1a" fill-opacity="0.33"/>
<rect x="357.00" y="466" width="1.30" height="1" fill="#1a1a1a" fill-opacity="0.72"/>
<rect x="357.00" y="467" width="1.30" height="1" fill="#1a1a1a" fill-opacity="0.20"/>
<rect x="357.00" y="468" width="1.30" height="1" fill="#1a1a1a" fill-opacity="0.88"/>
<rect x="357.00" y="469" width="1.30" height="1" fill="#1a1a1a" fill-opacity="0.07"/>
<rect x="357.00" y="470" width="1.30" height="1" fill="#1a1a1a" fill-opacity="1.00"/>
<rect x="357.00" y="472" width="1.30" height="1" fill="#1a1a1a" fill-opacity="0.93"/>
<rect x="357.00" y="473" width="1.30" height="1" fill="#1a1a1a" fill-opacity="0.12"/>
<rect x="357.00" y="474" width="1.30" height="1" fill="#1a1a1a" fill-opacity="0.80"/>
<rect x="357.00" y="475" width="1.30" height="1" fill="#1a1a1a" fill-opacity="0.28"/>
<rect x="357.00" y="476" width="1.30" height="1" fill="#1a1a1a" fill-opacity="0.68"/>
<rect x="357.00" y="477" width="1.30" height="1" fill="#1a1a1a" fill-opacity="0.40"/>
<rect x="357.00" y="478" width="1.30" height="1" fill="#1a1a1a" fill-opacity="0.53"/>
<rect x="357.00" y="479" width="1.30" height="1" fill="#1a1a1a" fill-opacity="0.53"/>
<rect x="357.00" y="480" width="1.30" height="1" fill="#1a1a1a" fill-opacity="0.40"/>
<rect x="357.00" y="481" width="1.30" height="1" fill="#1a1a1a" fill-opacity="0.68"/>
<rect x="357.00" y="482" width="1.30" height="1" fill="#1a1a1a" fill-opacity="0.28"/>
<rect x="357.00" y="483" width="1.30" height="1" fill="#1a1a1a" fill-opacity="0.80"/>
<rect x="357.00" y="484" width="1.30" height="1" fill="#1a1a1a" fill-opacity="0.12"/>
<rect x="357.00" y="485" width="1.30" height="1" fill="#1a1a1a" fill-opacity="0.93"/>
<rect x="357.00" y="487" width="1.30" height="1" fill="#1a1a1a" fill-opacity="1.00"/>
<rect x="357.00" y="488" width="1.30" height="1" fill="#1a1a1a" fill-opacity="0.07"/>
<rect x="357.00" y="489" width="1.30" height="1" fill="#1a1a1a" fill-opacity="0.88"/>
<rect x="357.00" y="490" width="1.30" height="1" fill="#1a1a1a" fill-opacity="0.20"/>
<rect x="357.00" y="491" width="1.30" height="1" fill="#1a1a1a" fill-opacity="0.72"/>
<rect x="357.00" y="492" width="1.30" height="1" fill="#1a1a1a" fill-opacity="0.33"/>
<rect x="357.00" y="493" width="1.30" height="1" fill="#1a1a1a" fill-opacity="0.60"/>
<rect x="357.00" y="494" width="1.30" height="1" fill="#1a1a1a" fill-opacity="0.47"/>
<rect x="357.00" y="495" width="1.30" height="1" fill="#1a1a1a" fill-opacity="0.47"/>
<rect x="357.00" y="496" width="1.30" height="1" fill="#1a1a1a" fill-opacity="0.60"/>
<rect x="357.00" y="497" width="1.30" height="1" fill="#1a1a1a" fill-opacity="0.33"/>
<rect x="357.00" y="498" width="1.30" height="1" fill="#1a1a1a" fill-opacity="0.72"/>
<rect x="357.00" y="499" width="1.30" height="1" fill="#1a1a1a" fill-opacity="0.20"/>
<rect x="357.00" y="500" width="1.30" height="1" fill="#1a1a1a" fill-opacity="0.88"/>
<rect x="357.00" y="501" width="1.30" height="1" fill="#1a1a1a" fill-opacity="0.07"/>
<rect x="357.00" y="502" width="1.30" height="1" fill="#1a1a1a" fill-opacity="1.00"/>
<rect x="357.00" y="504" width="1.30" height="1" fill="#1a1a1a" fill-opacity="0.93"/>
<rect x="357.00" y="505" width="1.30" height="1" fill="#1a1a1a" fill-opacity="0.12"/>
<rect x="357.00" y="506" width="1.30" height="1" fill="#1a1a1a" fill-opacity="0.80"/>
<rect x="357.00" y="507" width="1.30" height="1" fill="#1a1a1a" fill-opacity="0.28"/>
<rect x="357.00" y="508" width="1.30" height="1" fill="#1a1a1a" fill-opacity="0.68"/>
<rect x="357.00" y="509" width="1.30" height="1" fill="#1a1a1a" fill-opacity="0.40"/>
<rect x="357.00" y="510" width="1.30" height="1" fill="#1a1a1a" fill-opacity="0.53"/>
<rect x="357.00" y="511" width="1.30" height="1" fill="#1a1a1a" fill-opacity="0.53"/>
<rect x="357.00" y="512" width="1.30" height="1" fill="#1a1a1a" fill-opacity="0.40"/>
<text x="12.00" y="371.00" textLength="50.50" lengthAdjust="spacingAndGlyphs" style="font-size:9.7px" fill="#111" stroke="#111" stroke-width="0.12">COPDGene</text>
<text x="159.20" y="371.00" text-anchor="middle" textLength="75.15" lengthAdjust="spacingAndGlyphs" style="font-size:9.7px" fill="#111" stroke="#111" stroke-width="0.12">164/1698 (9.66%)</text>
<text x="260.20" y="371.00" text-anchor="middle" textLength="74.45" lengthAdjust="spacingAndGlyphs" style="font-size:9.7px" fill="#111" stroke="#111" stroke-width="0.12">115/3085 (3.73%)</text>
<text x="508.60" y="371.00" text-anchor="end" textLength="84.09" lengthAdjust="spacingAndGlyphs" style="font-size:9.7px" fill="#111" stroke="#111" stroke-width="0.12">2.163 [1.624, 2.881]</text>
<line x1="382.09" y1="368.60" x2="411.39" y2="368.60" stroke="#3a3a3a" stroke-width="1.1"/>
<line x1="382.09" y1="366.20" x2="382.09" y2="371.00" stroke="#3a3a3a" stroke-width="1.1"/>
<line x1="411.39" y1="366.20" x2="411.39" y2="371.00" stroke="#3a3a3a" stroke-width="1.1"/>
<rect x="394.44" y="366.30" width="4.60" height="4.60" fill="#0d4f8b"/>
<text x="12.00" y="429.50" textLength="103.50" lengthAdjust="spacingAndGlyphs" style="font-size:9.7px" fill="#111" stroke="#111" stroke-width="0.12">Additional WGS cohorts</text>
<text x="159.20" y="429.50" text-anchor="middle" textLength="64.63" lengthAdjust="spacingAndGlyphs" style="font-size:9.7px" fill="#111" stroke="#111" stroke-width="0.12">84/945 (8.89%)</text>
<text x="260.20" y="429.50" text-anchor="middle" textLength="69.89" lengthAdjust="spacingAndGlyphs" style="font-size:9.7px" fill="#111" stroke="#111" stroke-width="0.12">282/6878 (4.1%)</text>
<text x="508.60" y="429.50" text-anchor="end" textLength="84.09" lengthAdjust="spacingAndGlyphs" style="font-size:9.7px" fill="#111" stroke="#111" stroke-width="0.12">1.423 [0.799, 2.533]</text>
<line x1="345.83" y1="427.10" x2="404.81" y2="427.10" stroke="#3a3a3a" stroke-width="1.1"/>
<line x1="345.83" y1="424.70" x2="345.83" y2="429.50" stroke="#3a3a3a" stroke-width="1.1"/>
<line x1="404.81" y1="424.70" x2="404.81" y2="429.50" stroke="#3a3a3a" stroke-width="1.1"/>
<rect x="373.03" y="424.80" width="4.60" height="4.60" fill="#0d4f8b"/>
<text x="12.00" y="449.00" textLength="68.00" lengthAdjust="spacingAndGlyphs" style="font-size:9.7px" fill="#111" stroke="#111" stroke-width="0.12">ICGN-EOCOPD</text>
<text x="159.20" y="449.00" text-anchor="middle" textLength="64.63" lengthAdjust="spacingAndGlyphs" style="font-size:9.7px" fill="#111" stroke="#111" stroke-width="0.12">55/853 (6.45%)</text>
<text x="260.20" y="449.00" text-anchor="middle" textLength="64.63" lengthAdjust="spacingAndGlyphs" style="font-size:9.7px" fill="#111" stroke="#111" stroke-width="0.12">10/216 (4.63%)</text>
<text x="508.60" y="449.00" text-anchor="end" textLength="84.09" lengthAdjust="spacingAndGlyphs" style="font-size:9.7px" fill="#111" stroke="#111" stroke-width="0.12">1.162 [0.494, 2.733]</text>
<line x1="332.69" y1="446.70" x2="408.70" y2="446.70" stroke="#3a3a3a" stroke-width="1.1"/>
<path d="M332.39,446.70 L338.59,444.70 L338.59,448.70 Z" fill="#111"/>
<line x1="408.70" y1="444.30" x2="408.70" y2="449.10" stroke="#3a3a3a" stroke-width="1.1"/>
<rect x="362.68" y="444.40" width="4.60" height="4.60" fill="#0d4f8b"/>
<text x="12.00" y="469.00" textLength="50.00" lengthAdjust="spacingAndGlyphs" style="font-size:9.7px" fill="#111" stroke="#111" stroke-width="0.12">UK Biobank</text>
<text x="159.20" y="469.00" text-anchor="middle" textLength="69.89" lengthAdjust="spacingAndGlyphs" style="font-size:9.7px" fill="#111" stroke="#111" stroke-width="0.12">16/149 (10.74%)</text>
<text x="260.20" y="469.00" text-anchor="middle" textLength="85.66" lengthAdjust="spacingAndGlyphs" style="font-size:9.7px" fill="#111" stroke="#111" stroke-width="0.12">1299/23941 (5.43%)</text>
<text x="508.60" y="469.00" text-anchor="end" textLength="84.09" lengthAdjust="spacingAndGlyphs" style="font-size:9.7px" fill="#111" stroke="#111" stroke-width="0.12">1.580 [0.929, 2.688]</text>
<line x1="353.54" y1="465.60" x2="407.85" y2="465.60" stroke="#3a3a3a" stroke-width="1.1"/>
<line x1="353.54" y1="463.20" x2="353.54" y2="468.00" stroke="#3a3a3a" stroke-width="1.1"/>
<line x1="407.85" y1="463.20" x2="407.85" y2="468.00" stroke="#3a3a3a" stroke-width="1.1"/>
<rect x="378.38" y="463.30" width="4.60" height="4.60" fill="#0d4f8b"/>
<rect x="6.00" y="485.15" width="508.00" height="1.30" fill="#151515"/>
<text x="12.00" y="508.00" textLength="95.20" lengthAdjust="spacingAndGlyphs" style="font-size:9.7px" fill="#111" stroke="#111" stroke-width="0.12">RE model for all studies</text>
<text x="109.30" y="508.00" textLength="40.30" lengthAdjust="spacingAndGlyphs" style="font-size:9.7px" fill="#111" stroke="#111" stroke-width="0.12">(Q = 5.65,</text>
<text x="152.60" y="508.00" textLength="36.20" lengthAdjust="spacingAndGlyphs" style="font-size:9.7px" fill="#111" stroke="#111" stroke-width="0.12">p = 0.69;</text>
<text x="191.90" y="508.00" textLength="42.20" lengthAdjust="spacingAndGlyphs" style="font-size:9.7px" fill="#111" stroke="#111" stroke-width="0.12">I² = 0.0%):</text>
<text x="236.30" y="508.00" textLength="77.60" lengthAdjust="spacingAndGlyphs" style="font-size:9.7px" fill="#111" stroke="#111" stroke-width="0.12">P-value = 7.78e-08</text>
<text x="508.60" y="508.00" text-anchor="end" textLength="84.09" lengthAdjust="spacingAndGlyphs" style="font-size:9.7px" fill="#111" stroke="#111" stroke-width="0.12">1.843 [1.474, 2.303]</text>
<path d="M376.73,504.50 L388.55,501.60 L400.34,504.50 L388.55,507.40 Z" fill="#c8102e"/>
<rect x="330.59" y="513.00" width="95.56" height="1.35" fill="#111"/>
<line x1="331.19" y1="513.50" x2="331.19" y2="518.70" stroke="#222" stroke-width="1.2"/>
<text x="331.19" y="528.40" text-anchor="middle" textLength="10.64" lengthAdjust="spacingAndGlyphs" style="font-size:8.8px" fill="#222" stroke="#111" stroke-width="0.12">0.6</text>
<line x1="374.50" y1="513.50" x2="374.50" y2="518.70" stroke="#222" stroke-width="1.2"/>
<text x="374.50" y="528.40" text-anchor="middle" textLength="10.64" lengthAdjust="spacingAndGlyphs" style="font-size:8.8px" fill="#222" stroke="#111" stroke-width="0.12">1.4</text>
<line x1="397.61" y1="513.50" x2="397.61" y2="518.70" stroke="#222" stroke-width="1.2"/>
<text x="397.61" y="528.40" text-anchor="middle" textLength="10.64" lengthAdjust="spacingAndGlyphs" style="font-size:8.8px" fill="#222" stroke="#111" stroke-width="0.12">2.2</text>
<line x1="413.46" y1="513.50" x2="413.46" y2="518.70" stroke="#222" stroke-width="1.2"/>
<line x1="425.55" y1="513.50" x2="425.55" y2="518.70" stroke="#222" stroke-width="1.2"/>
<text x="425.55" y="528.40" text-anchor="middle" textLength="10.64" lengthAdjust="spacingAndGlyphs" style="font-size:8.8px" fill="#222" stroke="#111" stroke-width="0.12">3.8</text>
<text x="378.37" y="542.60" text-anchor="middle" textLength="34.00" lengthAdjust="spacingAndGlyphs" style="font-size:9.6px" fill="#222" stroke="#111" stroke-width="0.12">Odds ratio</text>
<text x="6.00" y="566.00" style="font-size:16.3px;font-weight:bold" fill="#000" stroke="#000" stroke-width="0.5">C</text>
<text x="12.00" y="579.00" textLength="26.00" lengthAdjust="spacingAndGlyphs" style="font-size:9.2px;font-weight:bold" fill="#000" stroke="#000" stroke-width="0.3">Study</text>
<text x="159.20" y="579.00" text-anchor="middle" textLength="76.00" lengthAdjust="spacingAndGlyphs" style="font-size:9.2px;font-weight:bold" fill="#000" stroke="#000" stroke-width="0.3">#CHIP/#Case(%)</text>
<text x="260.20" y="579.00" text-anchor="middle" textLength="88.00" lengthAdjust="spacingAndGlyphs" style="font-size:9.2px;font-weight:bold" fill="#000" stroke="#000" stroke-width="0.3">#CHIP/#Control(%)</text>
<text x="508.60" y="579.00" text-anchor="end" textLength="90.00" lengthAdjust="spacingAndGlyphs" style="font-size:9.2px;font-weight:bold" fill="#000" stroke="#000" stroke-width="0.3">Odds ratio [95% CI]</text>
<rect x="6.00" y="584.60" width="508.00" height="1.40" fill="#000"/>
<text x="12.00" y="616.00" textLength="67.50" lengthAdjust="spacingAndGlyphs" style="font-size:9.2px;font-weight:bold;font-style:italic" fill="#000" stroke="#000" stroke-width="0.3">Primary cohort</text>
<text x="12.00" y="701.00" textLength="83.50" lengthAdjust="spacingAndGlyphs" style="font-size:9.2px;font-weight:bold;font-style:italic" fill="#000" stroke="#000" stroke-width="0.3">Additional cohorts</text>
<rect x="339.95" y="586" width="1.15" height="1" fill="#1a1a1a" fill-opacity="0.17"/>
<rect x="339.95" y="587" width="1.15" height="1" fill="#1a1a1a" fill-opacity="0.75"/>
<rect x="339.95" y="588" width="1.15" height="1" fill="#1a1a1a" fill-opacity="0.33"/>
<rect x="339.95" y="589" width="1.15" height="1" fill="#1a1a1a" fill-opacity="0.62"/>
<rect x="339.95" y="590" width="1.15" height="1" fill="#1a1a1a" fill-opacity="0.45"/>
<rect x="339.95" y="591" width="1.15" height="1" fill="#1a1a1a" fill-opacity="0.47"/>
<rect x="339.95" y="592" width="1.15" height="1" fill="#1a1a1a" fill-opacity="0.57"/>
<rect x="339.95" y="593" width="1.15" height="1" fill="#1a1a1a" fill-opacity="0.35"/>
<rect x="339.95" y="594" width="1.15" height="1" fill="#1a1a1a" fill-opacity="0.72"/>
<rect x="339.95" y="595" width="1.15" height="1" fill="#1a1a1a" fill-opacity="0.23"/>
<rect x="339.95" y="596" width="1.15" height="1" fill="#1a1a1a" fill-opacity="0.85"/>
<rect x="339.95" y="597" width="1.15" height="1" fill="#1a1a1a" fill-opacity="0.07"/>
<rect x="339.95" y="598" width="1.15" height="1" fill="#1a1a1a" fill-opacity="0.97"/>
<rect x="339.95" y="600" width="1.15" height="1" fill="#1a1a1a" fill-opacity="0.95"/>
<rect x="339.95" y="601" width="1.15" height="1" fill="#1a1a1a" fill-opacity="0.12"/>
<rect x="339.95" y="602" width="1.15" height="1" fill="#1a1a1a" fill-opacity="0.82"/>
<rect x="339.95" y="603" width="1.15" height="1" fill="#1a1a1a" fill-opacity="0.25"/>
<rect x="339.95" y="604" width="1.15" height="1" fill="#1a1a1a" fill-opacity="0.68"/>
<rect x="339.95" y="605" width="1.15" height="1" fill="#1a1a1a" fill-opacity="0.38"/>
<rect x="339.95" y="606" width="1.15" height="1" fill="#1a1a1a" fill-opacity="0.55"/>
<rect x="339.95" y="607" width="1.15" height="1" fill="#1a1a1a" fill-opacity="0.53"/>
<rect x="339.95" y="608" width="1.15" height="1" fill="#1a1a1a" fill-opacity="0.42"/>
<rect x="339.95" y="609" width="1.15" height="1" fill="#1a1a1a" fill-opacity="0.65"/>
<rect x="339.95" y="610" width="1.15" height="1" fill="#1a1a1a" fill-opacity="0.28"/>
<rect x="339.95" y="611" width="1.15" height="1" fill="#1a1a1a" fill-opacity="0.78"/>
<rect x="339.95" y="612" width="1.15" height="1" fill="#1a1a1a" fill-opacity="0.15"/>
<rect x="339.95" y="613" width="1.15" height="1" fill="#1a1a1a" fill-opacity="0.93"/>
<rect x="339.95" y="615" width="1.15" height="1" fill="#1a1a1a" fill-opacity="1.00"/>
<rect x="339.95" y="616" width="1.15" height="1" fill="#1a1a1a" fill-opacity="0.05"/>
<rect x="339.95" y="617" width="1.15" height="1" fill="#1a1a1a" fill-opacity="0.88"/>
<rect x="339.95" y="618" width="1.15" height="1" fill="#1a1a1a" fill-opacity="0.17"/>
<rect x="339.95" y="619" width="1.15" height="1" fill="#1a1a1a" fill-opacity="0.75"/>
<rect x="339.95" y="620" width="1.15" height="1" fill="#1a1a1a" fill-opacity="0.33"/>
<rect x="339.95" y="621" width="1.15" height="1" fill="#1a1a1a" fill-opacity="0.62"/>
<rect x="339.95" y="622" width="1.15" height="1" fill="#1a1a1a" fill-opacity="0.45"/>
<rect x="339.95" y="623" width="1.15" height="1" fill="#1a1a1a" fill-opacity="0.47"/>
<rect x="339.95" y="624" width="1.15" height="1" fill="#1a1a1a" fill-opacity="0.57"/>
<rect x="339.95" y="625" width="1.15" height="1" fill="#1a1a1a" fill-opacity="0.35"/>
<rect x="339.95" y="626" width="1.15" height="1" fill="#1a1a1a" fill-opacity="0.72"/>
<rect x="339.95" y="627" width="1.15" height="1" fill="#1a1a1a" fill-opacity="0.23"/>
<rect x="339.95" y="628" width="1.15" height="1" fill="#1a1a1a" fill-opacity="0.85"/>
<rect x="339.95" y="629" width="1.15" height="1" fill="#1a1a1a" fill-opacity="0.07"/>
<rect x="339.95" y="630" width="1.15" height="1" fill="#1a1a1a" fill-opacity="0.97"/>
<rect x="339.95" y="632" width="1.15" height="1" fill="#1a1a1a" fill-opacity="0.95"/>
<rect x="339.95" y="633" width="1.15" height="1" fill="#1a1a1a" fill-opacity="0.12"/>
<rect x="339.95" y="634" width="1.15" height="1" fill="#1a1a1a" fill-opacity="0.82"/>
<rect x="339.95" y="635" width="1.15" height="1" fill="#1a1a1a" fill-opacity="0.25"/>
<rect x="339.95" y="636" width="1.15" height="1" fill="#1a1a1a" fill-opacity="0.68"/>
<rect x="339.95" y="637" width="1.15" height="1" fill="#1a1a1a" fill-opacity="0.38"/>
<rect x="339.95" y="638" width="1.15" height="1" fill="#1a1a1a" fill-opacity="0.55"/>
<rect x="339.95" y="639" width="1.15" height="1" fill="#1a1a1a" fill-opacity="0.53"/>
<rect x="339.95" y="640" width="1.15" height="1" fill="#1a1a1a" fill-opacity="0.42"/>
<rect x="339.95" y="641" width="1.15" height="1" fill="#1a1a1a" fill-opacity="0.65"/>
<rect x="339.95" y="642" width="1.15" height="1" fill="#1a1a1a" fill-opacity="0.28"/>
<rect x="339.95" y="643" width="1.15" height="1" fill="#1a1a1a" fill-opacity="0.78"/>
<rect x="339.95" y="644" width="1.15" height="1" fill="#1a1a1a" fill-opacity="0.15"/>
<rect x="339.95" y="645" width="1.15" height="1" fill="#1a1a1a" fill-opacity="0.93"/>
<rect x="339.95" y="647" width="1.15" height="1" fill="#1a1a1a" fill-opacity="1.00"/>
<rect x="339.95" y="648" width="1.15" height="1" fill="#1a1a1a" fill-opacity="0.05"/>
<rect x="339.95" y="649" width="1.15" height="1" fill="#1a1a1a" fill-opacity="0.88"/>
<rect x="339.95" y="650" width="1.15" height="1" fill="#1a1a1a" fill-opacity="0.17"/>
<rect x="339.95" y="651" width="1.15" height="1" fill="#1a1a1a" fill-opacity="0.75"/>
<rect x="339.95" y="652" width="1.15" height="1" fill="#1a1a1a" fill-opacity="0.33"/>
<rect x="339.95" y="653" width="1.15" height="1" fill="#1a1a1a" fill-opacity="0.62"/>
<rect x="339.95" y="654" width="1.15" height="1" fill="#1a1a1a" fill-opacity="0.45"/>
<rect x="339.95" y="655" width="1.15" height="1" fill="#1a1a1a" fill-opacity="0.47"/>
<rect x="339.95" y="656" width="1.15" height="1" fill="#1a1a1a" fill-opacity="0.57"/>
<rect x="339.95" y="657" width="1.15" height="1" fill="#1a1a1a" fill-opacity="0.35"/>
<rect x="339.95" y="658" width="1.15" height="1" fill="#1a1a1a" fill-opacity="0.72"/>
<rect x="339.95" y="659" width="1.15" height="1" fill="#1a1a1a" fill-opacity="0.23"/>
<rect x="339.95" y="660" width="1.15" height="1" fill="#1a1a1a" fill-opacity="0.85"/>
<rect x="339.95" y="661" width="1.15" height="1" fill="#1a1a1a" fill-opacity="0.07"/>
<rect x="339.95" y="662" width="1.15" height="1" fill="#1a1a1a" fill-opacity="0.97"/>
<rect x="339.95" y="664" width="1.15" height="1" fill="#1a1a1a" fill-opacity="0.95"/>
<rect x="339.95" y="665" width="1.15" height="1" fill="#1a1a1a" fill-opacity="0.12"/>
<rect x="339.95" y="666" width="1.15" height="1" fill="#1a1a1a" fill-opacity="0.82"/>
<rect x="339.95" y="667" width="1.15" height="1" fill="#1a1a1a" fill-opacity="0.25"/>
<rect x="339.95" y="668" width="1.15" height="1" fill="#1a1a1a" fill-opacity="0.68"/>
<rect x="339.95" y="669" width="1.15" height="1" fill="#1a1a1a" fill-opacity="0.38"/>
<rect x="339.95" y="670" width="1.15" height="1" fill="#1a1a1a" fill-opacity="0.55"/>
<rect x="339.95" y="671" width="1.15" height="1" fill="#1a1a1a" fill-opacity="0.53"/>
<rect x="339.95" y="672" width="1.15" height="1" fill="#1a1a1a" fill-opacity="0.42"/>
<rect x="339.95" y="673" width="1.15" height="1" fill="#1a1a1a" fill-opacity="0.65"/>
<rect x="339.95" y="674" width="1.15" height="1" fill="#1a1a1a" fill-opacity="0.28"/>
<rect x="339.95" y="675" width="1.15" height="1" fill="#1a1a1a" fill-opacity="0.78"/>
<rect x="339.95" y="676" width="1.15" height="1" fill="#1a1a1a" fill-opacity="0.15"/>
<rect x="339.95" y="677" width="1.15" height="1" fill="#1a1a1a" fill-opacity="0.93"/>
<rect x="339.95" y="679" width="1.15" height="1" fill="#1a1a1a" fill-opacity="1.00"/>
<rect x="339.95" y="680" width="1.15" height="1" fill="#1a1a1a" fill-opacity="0.05"/>
<rect x="339.95" y="681" width="1.15" height="1" fill="#1a1a1a" fill-opacity="0.88"/>
<rect x="339.95" y="682" width="1.15" height="1" fill="#1a1a1a" fill-opacity="0.17"/>
<rect x="339.95" y="683" width="1.15" height="1" fill="#1a1a1a" fill-opacity="0.75"/>
<rect x="339.95" y="684" width="1.15" height="1" fill="#1a1a1a" fill-opacity="0.33"/>
<rect x="339.95" y="685" width="1.15" height="1" fill="#1a1a1a" fill-opacity="0.62"/>
<rect x="339.95" y="686" width="1.15" height="1" fill="#1a1a1a" fill-opacity="0.45"/>
<rect x="339.95" y="687" width="1.15" height="1" fill="#1a1a1a" fill-opacity="0.47"/>
<rect x="339.95" y="688" width="1.15" height="1" fill="#1a1a1a" fill-opacity="0.57"/>
<rect x="339.95" y="689" width="1.15" height="1" fill="#1a1a1a" fill-opacity="0.35"/>
<rect x="339.95" y="690" width="1.15" height="1" fill="#1a1a1a" fill-opacity="0.72"/>
<rect x="339.95" y="691" width="1.15" height="1" fill="#1a1a1a" fill-opacity="0.23"/>
<rect x="339.95" y="692" width="1.15" height="1" fill="#1a1a1a" fill-opacity="0.85"/>
<rect x="339.95" y="693" width="1.15" height="1" fill="#1a1a1a" fill-opacity="0.07"/>
<rect x="339.95" y="694" width="1.15" height="1" fill="#1a1a1a" fill-opacity="1.00"/>
<rect x="339.95" y="696" width="1.15" height="1" fill="#1a1a1a" fill-opacity="0.95"/>
<rect x="339.95" y="697" width="1.15" height="1" fill="#1a1a1a" fill-opacity="0.12"/>
<rect x="339.95" y="698" width="1.15" height="1" fill="#1a1a1a" fill-opacity="0.80"/>
<rect x="339.95" y="699" width="1.15" height="1" fill="#1a1a1a" fill-opacity="0.25"/>
<rect x="339.95" y="700" width="1.15" height="1" fill="#1a1a1a" fill-opacity="0.68"/>
<rect x="339.95" y="701" width="1.15" height="1" fill="#1a1a1a" fill-opacity="0.40"/>
<rect x="339.95" y="702" width="1.15" height="1" fill="#1a1a1a" fill-opacity="0.55"/>
<rect x="339.95" y="703" width="1.15" height="1" fill="#1a1a1a" fill-opacity="0.53"/>
<rect x="339.95" y="704" width="1.15" height="1" fill="#1a1a1a" fill-opacity="0.40"/>
<rect x="339.95" y="705" width="1.15" height="1" fill="#1a1a1a" fill-opacity="0.65"/>
<rect x="339.95" y="706" width="1.15" height="1" fill="#1a1a1a" fill-opacity="0.28"/>
<rect x="339.95" y="707" width="1.15" height="1" fill="#1a1a1a" fill-opacity="0.80"/>
<rect x="339.95" y="708" width="1.15" height="1" fill="#1a1a1a" fill-opacity="0.15"/>
<rect x="339.95" y="709" width="1.15" height="1" fill="#1a1a1a" fill-opacity="0.93"/>
<rect x="339.95" y="711" width="1.15" height="1" fill="#1a1a1a" fill-opacity="1.00"/>
<rect x="339.95" y="712" width="1.15" height="1" fill="#1a1a1a" fill-opacity="0.05"/>
<rect x="339.95" y="713" width="1.15" height="1" fill="#1a1a1a" fill-opacity="0.88"/>
<rect x="339.95" y="714" width="1.15" height="1" fill="#1a1a1a" fill-opacity="0.20"/>
<rect x="339.95" y="715" width="1.15" height="1" fill="#1a1a1a" fill-opacity="0.75"/>
<rect x="339.95" y="716" width="1.15" height="1" fill="#1a1a1a" fill-opacity="0.33"/>
<rect x="339.95" y="717" width="1.15" height="1" fill="#1a1a1a" fill-opacity="0.60"/>
<rect x="339.95" y="718" width="1.15" height="1" fill="#1a1a1a" fill-opacity="0.45"/>
<rect x="339.95" y="719" width="1.15" height="1" fill="#1a1a1a" fill-opacity="0.47"/>
<rect x="339.95" y="720" width="1.15" height="1" fill="#1a1a1a" fill-opacity="0.60"/>
<rect x="339.95" y="721" width="1.15" height="1" fill="#1a1a1a" fill-opacity="0.35"/>
<rect x="339.95" y="722" width="1.15" height="1" fill="#1a1a1a" fill-opacity="0.72"/>
<rect x="339.95" y="723" width="1.15" height="1" fill="#1a1a1a" fill-opacity="0.20"/>
<rect x="339.95" y="724" width="1.15" height="1" fill="#1a1a1a" fill-opacity="0.85"/>
<rect x="339.95" y="725" width="1.15" height="1" fill="#1a1a1a" fill-opacity="0.07"/>
<rect x="339.95" y="726" width="1.15" height="1" fill="#1a1a1a" fill-opacity="1.00"/>
<rect x="339.95" y="728" width="1.15" height="1" fill="#1a1a1a" fill-opacity="0.95"/>
<rect x="339.95" y="729" width="1.15" height="1" fill="#1a1a1a" fill-opacity="0.12"/>
<rect x="339.95" y="730" width="1.15" height="1" fill="#1a1a1a" fill-opacity="0.80"/>
<rect x="339.95" y="731" width="1.15" height="1" fill="#1a1a1a" fill-opacity="0.25"/>
<rect x="339.95" y="732" width="1.15" height="1" fill="#1a1a1a" fill-opacity="0.68"/>
<rect x="339.95" y="733" width="1.15" height="1" fill="#1a1a1a" fill-opacity="0.40"/>
<rect x="339.95" y="734" width="1.15" height="1" fill="#1a1a1a" fill-opacity="0.55"/>
<rect x="339.95" y="735" width="1.15" height="1" fill="#1a1a1a" fill-opacity="0.53"/>
<rect x="339.95" y="736" width="1.15" height="1" fill="#1a1a1a" fill-opacity="0.40"/>
<rect x="339.95" y="737" width="1.15" height="1" fill="#1a1a1a" fill-opacity="0.65"/>
<rect x="339.95" y="738" width="1.15" height="1" fill="#1a1a1a" fill-opacity="0.28"/>
<rect x="339.95" y="739" width="1.15" height="1" fill="#1a1a1a" fill-opacity="0.80"/>
<rect x="339.95" y="740" width="1.15" height="1" fill="#1a1a1a" fill-opacity="0.15"/>
<rect x="339.95" y="741" width="1.15" height="1" fill="#1a1a1a" fill-opacity="0.93"/>
<rect x="339.95" y="743" width="1.15" height="1" fill="#1a1a1a" fill-opacity="1.00"/>
<rect x="339.95" y="744" width="1.15" height="1" fill="#1a1a1a" fill-opacity="0.05"/>
<rect x="339.95" y="745" width="1.15" height="1" fill="#1a1a1a" fill-opacity="0.88"/>
<rect x="339.95" y="746" width="1.15" height="1" fill="#1a1a1a" fill-opacity="0.20"/>
<rect x="339.95" y="747" width="1.15" height="1" fill="#1a1a1a" fill-opacity="0.75"/>
<rect x="339.95" y="748" width="1.15" height="1" fill="#1a1a1a" fill-opacity="0.33"/>
<rect x="339.95" y="749" width="1.15" height="1" fill="#1a1a1a" fill-opacity="0.60"/>
<rect x="339.95" y="750" width="1.15" height="1" fill="#1a1a1a" fill-opacity="0.45"/>
<rect x="339.95" y="751" width="1.15" height="1" fill="#1a1a1a" fill-opacity="0.47"/>
<rect x="339.95" y="752" width="1.15" height="1" fill="#1a1a1a" fill-opacity="0.60"/>
<rect x="339.95" y="753" width="1.15" height="1" fill="#1a1a1a" fill-opacity="0.35"/>
<rect x="339.95" y="754" width="1.15" height="1" fill="#1a1a1a" fill-opacity="0.72"/>
<rect x="339.95" y="755" width="1.15" height="1" fill="#1a1a1a" fill-opacity="0.20"/>
<rect x="339.95" y="756" width="1.15" height="1" fill="#1a1a1a" fill-opacity="0.85"/>
<rect x="339.95" y="757" width="1.15" height="1" fill="#1a1a1a" fill-opacity="0.07"/>
<rect x="339.95" y="758" width="1.15" height="1" fill="#1a1a1a" fill-opacity="1.00"/>
<rect x="339.95" y="760" width="1.15" height="1" fill="#1a1a1a" fill-opacity="0.95"/>
<rect x="339.95" y="761" width="1.15" height="1" fill="#1a1a1a" fill-opacity="0.12"/>
<rect x="339.95" y="762" width="1.15" height="1" fill="#1a1a1a" fill-opacity="0.80"/>
<rect x="339.95" y="763" width="1.15" height="1" fill="#1a1a1a" fill-opacity="0.25"/>
<rect x="339.95" y="764" width="1.15" height="1" fill="#1a1a1a" fill-opacity="0.68"/>
<rect x="339.95" y="765" width="1.15" height="1" fill="#1a1a1a" fill-opacity="0.40"/>
<rect x="339.95" y="766" width="1.15" height="1" fill="#1a1a1a" fill-opacity="0.55"/>
<rect x="339.95" y="767" width="1.15" height="1" fill="#1a1a1a" fill-opacity="0.53"/>
<rect x="339.95" y="768" width="1.15" height="1" fill="#1a1a1a" fill-opacity="0.40"/>
<rect x="339.95" y="769" width="1.15" height="1" fill="#1a1a1a" fill-opacity="0.65"/>
<rect x="339.95" y="770" width="1.15" height="1" fill="#1a1a1a" fill-opacity="0.28"/>
<rect x="339.95" y="771" width="1.15" height="1" fill="#1a1a1a" fill-opacity="0.80"/>
<rect x="339.95" y="772" width="1.15" height="1" fill="#1a1a1a" fill-opacity="0.15"/>
<rect x="339.95" y="773" width="1.15" height="1" fill="#1a1a1a" fill-opacity="0.93"/>
<rect x="339.95" y="775" width="1.15" height="1" fill="#1a1a1a" fill-opacity="1.00"/>
<rect x="339.95" y="776" width="1.15" height="1" fill="#1a1a1a" fill-opacity="0.05"/>
<rect x="339.95" y="777" width="1.15" height="1" fill="#1a1a1a" fill-opacity="0.88"/>
<rect x="339.95" y="778" width="1.15" height="1" fill="#1a1a1a" fill-opacity="0.20"/>
<rect x="339.95" y="779" width="1.15" height="1" fill="#1a1a1a" fill-opacity="0.75"/>
<rect x="339.95" y="780" width="1.15" height="1" fill="#1a1a1a" fill-opacity="0.33"/>
<rect x="339.95" y="781" width="1.15" height="1" fill="#1a1a1a" fill-opacity="0.60"/>
<rect x="339.95" y="782" width="1.15" height="1" fill="#1a1a1a" fill-opacity="0.45"/>
<rect x="339.95" y="783" width="1.15" height="1" fill="#1a1a1a" fill-opacity="0.47"/>
<rect x="339.95" y="784" width="1.15" height="1" fill="#1a1a1a" fill-opacity="0.60"/>
<rect x="339.95" y="785" width="1.15" height="1" fill="#1a1a1a" fill-opacity="0.35"/>
<rect x="339.95" y="786" width="1.15" height="1" fill="#1a1a1a" fill-opacity="0.72"/>
<rect x="339.95" y="787" width="1.15" height="1" fill="#1a1a1a" fill-opacity="0.20"/>
<rect x="339.95" y="788" width="1.15" height="1" fill="#1a1a1a" fill-opacity="0.85"/>
<rect x="339.95" y="789" width="1.15" height="1" fill="#1a1a1a" fill-opacity="0.07"/>
<rect x="339.95" y="790" width="1.15" height="1" fill="#1a1a1a" fill-opacity="1.00"/>
<rect x="339.95" y="792" width="1.15" height="1" fill="#1a1a1a" fill-opacity="0.95"/>
<rect x="339.95" y="793" width="1.15" height="1" fill="#1a1a1a" fill-opacity="0.12"/>
<rect x="339.95" y="794" width="1.15" height="1" fill="#1a1a1a" fill-opacity="0.80"/>
<rect x="339.95" y="795" width="1.15" height="1" fill="#1a1a1a" fill-opacity="0.25"/>
<rect x="339.95" y="796" width="1.15" height="1" fill="#1a1a1a" fill-opacity="0.68"/>
<rect x="339.95" y="797" width="1.15" height="1" fill="#1a1a1a" fill-opacity="0.40"/>
<rect x="339.95" y="798" width="1.15" height="1" fill="#1a1a1a" fill-opacity="0.55"/>
<rect x="339.95" y="799" width="1.15" height="1" fill="#1a1a1a" fill-opacity="0.53"/>
<rect x="339.95" y="800" width="1.15" height="1" fill="#1a1a1a" fill-opacity="0.40"/>
<rect x="339.95" y="801" width="1.15" height="1" fill="#1a1a1a" fill-opacity="0.68"/>
<rect x="339.95" y="802" width="1.15" height="1" fill="#1a1a1a" fill-opacity="0.28"/>
<rect x="339.95" y="803" width="1.15" height="1" fill="#1a1a1a" fill-opacity="0.80"/>
<rect x="339.95" y="804" width="1.15" height="1" fill="#1a1a1a" fill-opacity="0.12"/>
<rect x="339.95" y="805" width="1.15" height="1" fill="#1a1a1a" fill-opacity="0.93"/>
<rect x="339.95" y="807" width="1.15" height="1" fill="#1a1a1a" fill-opacity="1.00"/>
<rect x="339.95" y="808" width="1.15" height="1" fill="#1a1a1a" fill-opacity="0.07"/>
<rect x="339.95" y="809" width="1.15" height="1" fill="#1a1a1a" fill-opacity="0.88"/>
<rect x="339.95" y="810" width="1.15" height="1" fill="#1a1a1a" fill-opacity="0.20"/>
<rect x="339.95" y="811" width="1.15" height="1" fill="#1a1a1a" fill-opacity="0.72"/>
<rect x="339.95" y="812" width="1.15" height="1" fill="#1a1a1a" fill-opacity="0.33"/>
<rect x="339.95" y="813" width="1.15" height="1" fill="#1a1a1a" fill-opacity="0.60"/>
<rect x="339.95" y="814" width="1.15" height="1" fill="#1a1a1a" fill-opacity="0.47"/>
<rect x="339.95" y="815" width="1.15" height="1" fill="#1a1a1a" fill-opacity="0.47"/>
<rect x="339.95" y="816" width="1.15" height="1" fill="#1a1a1a" fill-opacity="0.60"/>
<rect x="339.95" y="817" width="1.15" height="1" fill="#1a1a1a" fill-opacity="0.33"/>
<rect x="339.95" y="818" width="1.15" height="1" fill="#1a1a1a" fill-opacity="0.72"/>
<rect x="339.95" y="819" width="1.15" height="1" fill="#1a1a1a" fill-opacity="0.20"/>
<rect x="339.95" y="820" width="1.15" height="1" fill="#1a1a1a" fill-opacity="0.88"/>
<rect x="339.95" y="821" width="1.15" height="1" fill="#1a1a1a" fill-opacity="0.07"/>
<rect x="339.95" y="822" width="1.15" height="1" fill="#1a1a1a" fill-opacity="1.00"/>
<rect x="339.95" y="824" width="1.15" height="1" fill="#1a1a1a" fill-opacity="0.93"/>
<rect x="339.95" y="825" width="1.15" height="1" fill="#1a1a1a" fill-opacity="0.12"/>
<rect x="339.95" y="826" width="1.15" height="1" fill="#1a1a1a" fill-opacity="0.80"/>
<rect x="339.95" y="827" width="1.15" height="1" fill="#1a1a1a" fill-opacity="0.28"/>
<rect x="339.95" y="828" width="1.15" height="1" fill="#1a1a1a" fill-opacity="0.68"/>
<rect x="339.95" y="829" width="1.15" height="1" fill="#1a1a1a" fill-opacity="0.40"/>
<rect x="339.95" y="830" width="1.15" height="1" fill="#1a1a1a" fill-opacity="0.53"/>
<rect x="339.95" y="831" width="1.15" height="1" fill="#1a1a1a" fill-opacity="0.53"/>
<rect x="339.95" y="832" width="1.15" height="1" fill="#1a1a1a" fill-opacity="0.40"/>
<rect x="339.95" y="833" width="1.15" height="1" fill="#1a1a1a" fill-opacity="0.68"/>
<rect x="339.95" y="834" width="1.15" height="1" fill="#1a1a1a" fill-opacity="0.28"/>
<rect x="339.95" y="835" width="1.15" height="1" fill="#1a1a1a" fill-opacity="0.80"/>
<rect x="339.95" y="836" width="1.15" height="1" fill="#1a1a1a" fill-opacity="0.12"/>
<rect x="339.95" y="837" width="1.15" height="1" fill="#1a1a1a" fill-opacity="0.93"/>
<rect x="339.95" y="839" width="1.15" height="1" fill="#1a1a1a" fill-opacity="1.00"/>
<rect x="339.95" y="840" width="1.15" height="1" fill="#1a1a1a" fill-opacity="0.07"/>
<rect x="339.95" y="841" width="1.15" height="1" fill="#1a1a1a" fill-opacity="0.88"/>
<rect x="339.95" y="842" width="1.15" height="1" fill="#1a1a1a" fill-opacity="0.20"/>
<rect x="339.95" y="843" width="1.15" height="1" fill="#1a1a1a" fill-opacity="0.72"/>
<rect x="339.95" y="844" width="1.15" height="1" fill="#1a1a1a" fill-opacity="0.33"/>
<rect x="339.95" y="845" width="1.15" height="1" fill="#1a1a1a" fill-opacity="0.60"/>
<rect x="339.95" y="846" width="1.15" height="1" fill="#1a1a1a" fill-opacity="0.47"/>
<rect x="339.95" y="847" width="1.15" height="1" fill="#1a1a1a" fill-opacity="0.47"/>
<rect x="339.95" y="848" width="1.15" height="1" fill="#1a1a1a" fill-opacity="0.60"/>
<rect x="339.95" y="849" width="1.15" height="1" fill="#1a1a1a" fill-opacity="0.33"/>
<rect x="339.95" y="850" width="1.15" height="1" fill="#1a1a1a" fill-opacity="0.72"/>
<rect x="339.95" y="851" width="1.15" height="1" fill="#1a1a1a" fill-opacity="0.20"/>
<text x="12.00" y="645.00" textLength="50.50" lengthAdjust="spacingAndGlyphs" style="font-size:9.7px" fill="#111" stroke="#111" stroke-width="0.12">COPDGene</text>
<text x="159.20" y="645.00" text-anchor="middle" textLength="75.15" lengthAdjust="spacingAndGlyphs" style="font-size:9.7px" fill="#111" stroke="#111" stroke-width="0.12">164/1698 (9.66%)</text>
<text x="260.20" y="645.00" text-anchor="middle" textLength="75.15" lengthAdjust="spacingAndGlyphs" style="font-size:9.7px" fill="#111" stroke="#111" stroke-width="0.12">105/1723 (6.09%)</text>
<text x="508.60" y="645.00" text-anchor="end" textLength="84.09" lengthAdjust="spacingAndGlyphs" style="font-size:9.7px" fill="#111" stroke="#111" stroke-width="0.12">1.631 [1.221, 2.177]</text>
<line x1="352.04" y1="642.50" x2="386.04" y2="642.50" stroke="#3a3a3a" stroke-width="1.1"/>
<line x1="352.04" y1="640.10" x2="352.04" y2="644.90" stroke="#3a3a3a" stroke-width="1.1"/>
<line x1="386.04" y1="640.10" x2="386.04" y2="644.90" stroke="#3a3a3a" stroke-width="1.1"/>
<rect x="366.76" y="640.20" width="4.60" height="4.60" fill="#0d4f8b"/>
<text x="12.00" y="729.00" textLength="103.50" lengthAdjust="spacingAndGlyphs" style="font-size:9.7px" fill="#111" stroke="#111" stroke-width="0.12">Additional WGS cohorts</text>
<text x="159.20" y="729.00" text-anchor="middle" textLength="64.63" lengthAdjust="spacingAndGlyphs" style="font-size:9.7px" fill="#111" stroke="#111" stroke-width="0.12">84/945 (8.89%)</text>
<text x="260.20" y="729.00" text-anchor="middle" textLength="69.89" lengthAdjust="spacingAndGlyphs" style="font-size:9.7px" fill="#111" stroke="#111" stroke-width="0.12">98/1337 (7.33%)</text>
<text x="508.60" y="729.00" text-anchor="end" textLength="84.09" lengthAdjust="spacingAndGlyphs" style="font-size:9.7px" fill="#111" stroke="#111" stroke-width="0.12">1.385 [0.935, 2.052]</text>
<line x1="336.35" y1="726.60" x2="382.57" y2="726.60" stroke="#3a3a3a" stroke-width="1.1"/>
<line x1="336.35" y1="724.20" x2="336.35" y2="729.00" stroke="#3a3a3a" stroke-width="1.1"/>
<line x1="382.57" y1="724.20" x2="382.57" y2="729.00" stroke="#3a3a3a" stroke-width="1.1"/>
<rect x="357.15" y="724.30" width="4.60" height="4.60" fill="#0d4f8b"/>
<text x="12.00" y="759.00" textLength="68.00" lengthAdjust="spacingAndGlyphs" style="font-size:9.7px" fill="#111" stroke="#111" stroke-width="0.12">ICGN-EOCOPD</text>
<text x="159.20" y="759.00" text-anchor="middle" textLength="64.63" lengthAdjust="spacingAndGlyphs" style="font-size:9.7px" fill="#111" stroke="#111" stroke-width="0.12">55/853 (6.45%)</text>
<text x="260.20" y="759.00" text-anchor="middle" textLength="64.63" lengthAdjust="spacingAndGlyphs" style="font-size:9.7px" fill="#111" stroke="#111" stroke-width="0.12">22/429 (5.13%)</text>
<text x="508.60" y="759.00" text-anchor="end" textLength="84.09" lengthAdjust="spacingAndGlyphs" style="font-size:9.7px" fill="#111" stroke="#111" stroke-width="0.12">1.403 [0.829, 2.376]</text>
<line x1="329.27" y1="756.20" x2="391.19" y2="756.20" stroke="#3a3a3a" stroke-width="1.1"/>
<line x1="329.27" y1="753.80" x2="329.27" y2="758.60" stroke="#3a3a3a" stroke-width="1.1"/>
<line x1="391.19" y1="753.80" x2="391.19" y2="758.60" stroke="#3a3a3a" stroke-width="1.1"/>
<rect x="357.91" y="753.90" width="4.60" height="4.60" fill="#0d4f8b"/>
<text x="12.00" y="787.00" textLength="50.00" lengthAdjust="spacingAndGlyphs" style="font-size:9.7px" fill="#111" stroke="#111" stroke-width="0.12">UK Biobank</text>
<text x="159.20" y="787.00" text-anchor="middle" textLength="69.89" lengthAdjust="spacingAndGlyphs" style="font-size:9.7px" fill="#111" stroke="#111" stroke-width="0.12">16/149 (10.74%)</text>
<text x="260.20" y="787.00" text-anchor="middle" textLength="75.15" lengthAdjust="spacingAndGlyphs" style="font-size:9.7px" fill="#111" stroke="#111" stroke-width="0.12">106/1310 (8.09%)</text>
<text x="508.60" y="787.00" text-anchor="end" textLength="84.09" lengthAdjust="spacingAndGlyphs" style="font-size:9.7px" fill="#111" stroke="#111" stroke-width="0.12">1.300 [0.739, 2.288]</text>
<line x1="322.52" y1="784.30" x2="388.97" y2="784.30" stroke="#3a3a3a" stroke-width="1.1"/>
<line x1="322.52" y1="781.90" x2="322.52" y2="786.70" stroke="#3a3a3a" stroke-width="1.1"/>
<line x1="388.97" y1="781.90" x2="388.97" y2="786.70" stroke="#3a3a3a" stroke-width="1.1"/>
<rect x="353.43" y="782.00" width="4.60" height="4.60" fill="#0d4f8b"/>
<rect x="6.00" y="811.60" width="508.00" height="1.25" fill="#151515"/>
<text x="12.00" y="844.00" textLength="95.20" lengthAdjust="spacingAndGlyphs" style="font-size:9.7px" fill="#111" stroke="#111" stroke-width="0.12">RE model for all studies</text>
<text x="109.30" y="844.00" textLength="40.30" lengthAdjust="spacingAndGlyphs" style="font-size:9.7px" fill="#111" stroke="#111" stroke-width="0.12">(Q = 3.08,</text>
<text x="152.60" y="844.00" textLength="36.20" lengthAdjust="spacingAndGlyphs" style="font-size:9.7px" fill="#111" stroke="#111" stroke-width="0.12">p = 0.93;</text>
<text x="191.90" y="844.00" textLength="42.20" lengthAdjust="spacingAndGlyphs" style="font-size:9.7px" fill="#111" stroke="#111" stroke-width="0.12">I² = 0.0%):</text>
<text x="236.30" y="844.00" textLength="77.60" lengthAdjust="spacingAndGlyphs" style="font-size:9.7px" fill="#111" stroke="#111" stroke-width="0.12">P-value = 9.29e-05</text>
<text x="508.60" y="844.00" text-anchor="end" textLength="84.09" lengthAdjust="spacingAndGlyphs" style="font-size:9.7px" fill="#111" stroke="#111" stroke-width="0.12">1.488 [1.219, 1.816]</text>
<path d="M351.54,840.80 L363.67,837.20 L375.78,840.80 L363.67,844.40 Z" fill="#c8102e"/>
<rect x="309.66" y="852.10" width="103.19" height="1.35" fill="#111"/>
<line x1="310.26" y1="853.10" x2="310.26" y2="858.30" stroke="#222" stroke-width="1.2"/>
<text x="310.26" y="867.60" text-anchor="middle" textLength="10.64" lengthAdjust="spacingAndGlyphs" style="font-size:8.8px" fill="#222" stroke="#111" stroke-width="0.12">0.6</text>
<line x1="355.73" y1="853.10" x2="355.73" y2="858.30" stroke="#222" stroke-width="1.2"/>
<text x="355.73" y="867.60" text-anchor="middle" textLength="10.64" lengthAdjust="spacingAndGlyphs" style="font-size:8.8px" fill="#222" stroke="#111" stroke-width="0.12">1.3</text>
<line x1="381.06" y1="853.10" x2="381.06" y2="858.30" stroke="#222" stroke-width="1.2"/>
<text x="381.06" y="867.60" text-anchor="middle" textLength="4.26" lengthAdjust="spacingAndGlyphs" style="font-size:8.8px" fill="#222" stroke="#111" stroke-width="0.12">2</text>
<line x1="398.70" y1="853.10" x2="398.70" y2="858.30" stroke="#222" stroke-width="1.2"/>
<text x="398.70" y="867.60" text-anchor="middle" textLength="10.64" lengthAdjust="spacingAndGlyphs" style="font-size:8.8px" fill="#222" stroke="#111" stroke-width="0.12">2.7</text>
<line x1="412.26" y1="853.10" x2="412.26" y2="858.30" stroke="#222" stroke-width="1.2"/>
<text x="361.26" y="881.20" text-anchor="middle" textLength="34.00" lengthAdjust="spacingAndGlyphs" style="font-size:9.6px" fill="#222" stroke="#111" stroke-width="0.12">Odds ratio</text>
<rect x="0.00" y="0.00" width="520.00" height="1.20" fill="#000"/>
<rect x="0.00" y="0.00" width="1.30" height="890.00" fill="#000"/>
<rect x="518.50" y="0.00" width="1.50" height="890.00" fill="#000"/>
<rect x="0.00" y="888.50" width="520.00" height="1.50" fill="#000"/>
</svg>
</body></html>
